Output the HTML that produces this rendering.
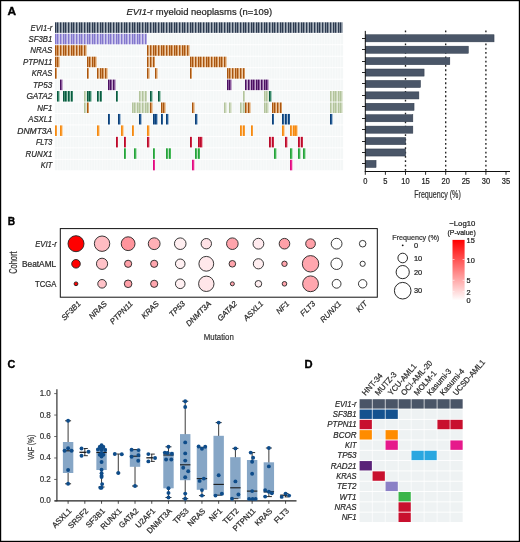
<!DOCTYPE html>
<html><head><meta charset="utf-8"><style>
html,body{margin:0;padding:0;background:#fff;}
svg{display:block;will-change:transform;}
text{font-family:"Liberation Sans", sans-serif;}
</style></head><body>
<svg width="520" height="542" viewBox="0 0 520 542">
<rect x="0" y="0" width="520" height="542" fill="#fff"/>
<text x="7.50" y="14.80" font-size="10.8" text-anchor="start" fill="#000" font-weight="bold" stroke="#000" stroke-width="0.35" textLength="8.6" lengthAdjust="spacingAndGlyphs" >A</text>
<text x="126.5" y="14.6" font-size="9.3" fill="#222" stroke="#222" stroke-width="0.2" textLength="145.6" lengthAdjust="spacingAndGlyphs"><tspan font-style="italic">EVI1</tspan>-r myeloid neoplasms (n=109)</text>
<text x="52.30" y="30.53" font-size="8.3" text-anchor="end" fill="#2a2a2a" font-style="italic" stroke="#2a2a2a" stroke-width="0.22" textLength="21.68" lengthAdjust="spacingAndGlyphs" >EVI1-r</text>
<text x="52.30" y="41.98" font-size="8.3" text-anchor="end" fill="#2a2a2a" font-style="italic" stroke="#2a2a2a" stroke-width="0.22" textLength="23.79" lengthAdjust="spacingAndGlyphs" >SF3B1</text>
<text x="52.30" y="53.44" font-size="8.3" text-anchor="end" fill="#2a2a2a" font-style="italic" stroke="#2a2a2a" stroke-width="0.22" textLength="22.01" lengthAdjust="spacingAndGlyphs" >NRAS</text>
<text x="52.30" y="64.89" font-size="8.3" text-anchor="end" fill="#2a2a2a" font-style="italic" stroke="#2a2a2a" stroke-width="0.22" textLength="29.32" lengthAdjust="spacingAndGlyphs" >PTPN11</text>
<text x="52.30" y="76.35" font-size="8.3" text-anchor="end" fill="#2a2a2a" font-style="italic" stroke="#2a2a2a" stroke-width="0.22" textLength="20.45" lengthAdjust="spacingAndGlyphs" >KRAS</text>
<text x="52.30" y="87.80" font-size="8.3" text-anchor="end" fill="#2a2a2a" font-style="italic" stroke="#2a2a2a" stroke-width="0.22" textLength="19.40" lengthAdjust="spacingAndGlyphs" >TP53</text>
<text x="52.30" y="99.26" font-size="8.3" text-anchor="end" fill="#2a2a2a" font-style="italic" stroke="#2a2a2a" stroke-width="0.22" textLength="25.88" lengthAdjust="spacingAndGlyphs" >GATA2</text>
<text x="52.30" y="110.71" font-size="8.3" text-anchor="end" fill="#2a2a2a" font-style="italic" stroke="#2a2a2a" stroke-width="0.22" textLength="14.95" lengthAdjust="spacingAndGlyphs" >NF1</text>
<text x="52.30" y="122.17" font-size="8.3" text-anchor="end" fill="#2a2a2a" font-style="italic" stroke="#2a2a2a" stroke-width="0.22" textLength="24.08" lengthAdjust="spacingAndGlyphs" >ASXL1</text>
<text x="52.30" y="133.62" font-size="8.3" text-anchor="end" fill="#2a2a2a" font-style="italic" stroke="#2a2a2a" stroke-width="0.22" textLength="35.05" lengthAdjust="spacingAndGlyphs" >DNMT3A</text>
<text x="52.30" y="145.07" font-size="8.3" text-anchor="end" fill="#2a2a2a" font-style="italic" stroke="#2a2a2a" stroke-width="0.22" textLength="16.39" lengthAdjust="spacingAndGlyphs" >FLT3</text>
<text x="52.30" y="156.53" font-size="8.3" text-anchor="end" fill="#2a2a2a" font-style="italic" stroke="#2a2a2a" stroke-width="0.22" textLength="26.78" lengthAdjust="spacingAndGlyphs" >RUNX1</text>
<text x="52.30" y="167.99" font-size="8.3" text-anchor="end" fill="#2a2a2a" font-style="italic" stroke="#2a2a2a" stroke-width="0.22" textLength="11.52" lengthAdjust="spacingAndGlyphs" >KIT</text>
<g><rect x="54.8" y="22.30" width="288.31" height="10.55" fill="#f4f7f7"/><rect x="54.8" y="33.76" width="288.31" height="10.55" fill="#f4f7f7"/><rect x="54.8" y="45.21" width="288.31" height="10.55" fill="#f4f7f7"/><rect x="54.8" y="56.67" width="288.31" height="10.55" fill="#f4f7f7"/><rect x="54.8" y="68.12" width="288.31" height="10.55" fill="#f4f7f7"/><rect x="54.8" y="79.58" width="288.31" height="10.55" fill="#f4f7f7"/><rect x="54.8" y="91.03" width="288.31" height="10.55" fill="#f4f7f7"/><rect x="54.8" y="102.48" width="288.31" height="10.55" fill="#f4f7f7"/><rect x="54.8" y="113.94" width="288.31" height="10.55" fill="#f4f7f7"/><rect x="54.8" y="125.39" width="288.31" height="10.55" fill="#f4f7f7"/><rect x="54.8" y="136.85" width="288.31" height="10.55" fill="#f4f7f7"/><rect x="54.8" y="148.31" width="288.31" height="10.55" fill="#f4f7f7"/><rect x="54.8" y="159.76" width="288.31" height="10.55" fill="#f4f7f7"/></g>
<path d="M57.45 22.3V170.31M60.09 22.3V170.31M62.73 22.3V170.31M65.38 22.3V170.31M68.02 22.3V170.31M70.67 22.3V170.31M73.31 22.3V170.31M75.96 22.3V170.31M78.60 22.3V170.31M81.25 22.3V170.31M83.89 22.3V170.31M86.54 22.3V170.31M89.19 22.3V170.31M91.83 22.3V170.31M94.47 22.3V170.31M97.12 22.3V170.31M99.77 22.3V170.31M102.41 22.3V170.31M105.06 22.3V170.31M107.70 22.3V170.31M110.34 22.3V170.31M112.99 22.3V170.31M115.63 22.3V170.31M118.28 22.3V170.31M120.92 22.3V170.31M123.57 22.3V170.31M126.22 22.3V170.31M128.86 22.3V170.31M131.50 22.3V170.31M134.15 22.3V170.31M136.80 22.3V170.31M139.44 22.3V170.31M142.08 22.3V170.31M144.73 22.3V170.31M147.38 22.3V170.31M150.02 22.3V170.31M152.66 22.3V170.31M155.31 22.3V170.31M157.95 22.3V170.31M160.60 22.3V170.31M163.25 22.3V170.31M165.89 22.3V170.31M168.53 22.3V170.31M171.18 22.3V170.31M173.82 22.3V170.31M176.47 22.3V170.31M179.12 22.3V170.31M181.76 22.3V170.31M184.40 22.3V170.31M187.05 22.3V170.31M189.69 22.3V170.31M192.34 22.3V170.31M194.99 22.3V170.31M197.63 22.3V170.31M200.27 22.3V170.31M202.92 22.3V170.31M205.56 22.3V170.31M208.21 22.3V170.31M210.86 22.3V170.31M213.50 22.3V170.31M216.14 22.3V170.31M218.79 22.3V170.31M221.44 22.3V170.31M224.08 22.3V170.31M226.73 22.3V170.31M229.37 22.3V170.31M232.01 22.3V170.31M234.66 22.3V170.31M237.31 22.3V170.31M239.95 22.3V170.31M242.59 22.3V170.31M245.24 22.3V170.31M247.88 22.3V170.31M250.53 22.3V170.31M253.18 22.3V170.31M255.82 22.3V170.31M258.46 22.3V170.31M261.11 22.3V170.31M263.75 22.3V170.31M266.40 22.3V170.31M269.05 22.3V170.31M271.69 22.3V170.31M274.33 22.3V170.31M276.98 22.3V170.31M279.62 22.3V170.31M282.27 22.3V170.31M284.92 22.3V170.31M287.56 22.3V170.31M290.20 22.3V170.31M292.85 22.3V170.31M295.50 22.3V170.31M298.14 22.3V170.31M300.79 22.3V170.31M303.43 22.3V170.31M306.07 22.3V170.31M308.72 22.3V170.31M311.37 22.3V170.31M314.01 22.3V170.31M316.66 22.3V170.31M319.30 22.3V170.31M321.94 22.3V170.31M324.59 22.3V170.31M327.24 22.3V170.31M329.88 22.3V170.31M332.53 22.3V170.31M335.17 22.3V170.31M337.81 22.3V170.31M340.46 22.3V170.31" stroke="#ffffff" stroke-width="0.45" opacity="0.9"/>
<g><rect x="55" y="22.30" width="1" height="10.55" fill="#2b394e"/><rect x="56" y="22.30" width="1" height="10.55" fill="#808b99"/><rect x="57" y="22.30" width="1" height="10.55" fill="#2b394e"/><rect x="58" y="22.30" width="1" height="10.55" fill="#808b99"/><rect x="59" y="22.30" width="1" height="10.55" fill="#aab3bd"/><rect x="60" y="22.30" width="1" height="10.55" fill="#2b394e"/><rect x="61" y="22.30" width="1" height="10.55" fill="#808b99"/><rect x="62" y="22.30" width="1" height="10.55" fill="#aab3bd"/><rect x="63" y="22.30" width="1" height="10.55" fill="#2b394e"/><rect x="64" y="22.30" width="1" height="10.55" fill="#808b99"/><rect x="65" y="22.30" width="1" height="10.55" fill="#2b394e"/><rect x="66" y="22.30" width="1" height="10.55" fill="#808b99"/><rect x="67" y="22.30" width="1" height="10.55" fill="#aab3bd"/><rect x="68" y="22.30" width="1" height="10.55" fill="#2b394e"/><rect x="69" y="22.30" width="1" height="10.55" fill="#808b99"/><rect x="70" y="22.30" width="1" height="10.55" fill="#aab3bd"/><rect x="71" y="22.30" width="1" height="10.55" fill="#2b394e"/><rect x="72" y="22.30" width="1" height="10.55" fill="#808b99"/><rect x="73" y="22.30" width="1" height="10.55" fill="#2b394e"/><rect x="74" y="22.30" width="1" height="10.55" fill="#808b99"/><rect x="75" y="22.30" width="1" height="10.55" fill="#aab3bd"/><rect x="76" y="22.30" width="1" height="10.55" fill="#2b394e"/><rect x="77" y="22.30" width="1" height="10.55" fill="#808b99"/><rect x="78" y="22.30" width="1" height="10.55" fill="#aab3bd"/><rect x="79" y="22.30" width="1" height="10.55" fill="#2b394e"/><rect x="80" y="22.30" width="1" height="10.55" fill="#808b99"/><rect x="81" y="22.30" width="1" height="10.55" fill="#2b394e"/><rect x="82" y="22.30" width="1" height="10.55" fill="#808b99"/><rect x="83" y="22.30" width="1" height="10.55" fill="#aab3bd"/><rect x="84" y="22.30" width="1" height="10.55" fill="#2b394e"/><rect x="85" y="22.30" width="1" height="10.55" fill="#808b99"/><rect x="86" y="22.30" width="1" height="10.55" fill="#aab3bd"/><rect x="87" y="22.30" width="1" height="10.55" fill="#2b394e"/><rect x="88" y="22.30" width="1" height="10.55" fill="#808b99"/><rect x="89" y="22.30" width="1" height="10.55" fill="#2b394e"/><rect x="90" y="22.30" width="1" height="10.55" fill="#808b99"/><rect x="91" y="22.30" width="1" height="10.55" fill="#aab3bd"/><rect x="92" y="22.30" width="1" height="10.55" fill="#2b394e"/><rect x="93" y="22.30" width="1" height="10.55" fill="#808b99"/><rect x="94" y="22.30" width="1" height="10.55" fill="#2b394e"/><rect x="95" y="22.30" width="1" height="10.55" fill="#808b99"/><rect x="96" y="22.30" width="1" height="10.55" fill="#aab3bd"/><rect x="97" y="22.30" width="1" height="10.55" fill="#2b394e"/><rect x="98" y="22.30" width="1" height="10.55" fill="#808b99"/><rect x="99" y="22.30" width="1" height="10.55" fill="#aab3bd"/><rect x="100" y="22.30" width="1" height="10.55" fill="#2b394e"/><rect x="101" y="22.30" width="1" height="10.55" fill="#808b99"/><rect x="102" y="22.30" width="1" height="10.55" fill="#2b394e"/><rect x="103" y="22.30" width="1" height="10.55" fill="#808b99"/><rect x="104" y="22.30" width="1" height="10.55" fill="#aab3bd"/><rect x="105" y="22.30" width="1" height="10.55" fill="#2b394e"/><rect x="106" y="22.30" width="1" height="10.55" fill="#808b99"/><rect x="107" y="22.30" width="1" height="10.55" fill="#aab3bd"/><rect x="108" y="22.30" width="1" height="10.55" fill="#2b394e"/><rect x="109" y="22.30" width="1" height="10.55" fill="#808b99"/><rect x="110" y="22.30" width="1" height="10.55" fill="#2b394e"/><rect x="111" y="22.30" width="1" height="10.55" fill="#808b99"/><rect x="112" y="22.30" width="1" height="10.55" fill="#aab3bd"/><rect x="113" y="22.30" width="1" height="10.55" fill="#2b394e"/><rect x="114" y="22.30" width="1" height="10.55" fill="#808b99"/><rect x="115" y="22.30" width="1" height="10.55" fill="#aab3bd"/><rect x="116" y="22.30" width="1" height="10.55" fill="#2b394e"/><rect x="117" y="22.30" width="1" height="10.55" fill="#808b99"/><rect x="118" y="22.30" width="1" height="10.55" fill="#2b394e"/><rect x="119" y="22.30" width="1" height="10.55" fill="#808b99"/><rect x="120" y="22.30" width="1" height="10.55" fill="#aab3bd"/><rect x="121" y="22.30" width="1" height="10.55" fill="#2b394e"/><rect x="122" y="22.30" width="1" height="10.55" fill="#808b99"/><rect x="123" y="22.30" width="1" height="10.55" fill="#aab3bd"/><rect x="124" y="22.30" width="1" height="10.55" fill="#2b394e"/><rect x="125" y="22.30" width="1" height="10.55" fill="#808b99"/><rect x="126" y="22.30" width="1" height="10.55" fill="#2b394e"/><rect x="127" y="22.30" width="1" height="10.55" fill="#808b99"/><rect x="128" y="22.30" width="1" height="10.55" fill="#aab3bd"/><rect x="129" y="22.30" width="1" height="10.55" fill="#2b394e"/><rect x="130" y="22.30" width="1" height="10.55" fill="#808b99"/><rect x="131" y="22.30" width="1" height="10.55" fill="#aab3bd"/><rect x="132" y="22.30" width="1" height="10.55" fill="#2b394e"/><rect x="133" y="22.30" width="1" height="10.55" fill="#808b99"/><rect x="134" y="22.30" width="1" height="10.55" fill="#2b394e"/><rect x="135" y="22.30" width="1" height="10.55" fill="#808b99"/><rect x="136" y="22.30" width="1" height="10.55" fill="#aab3bd"/><rect x="137" y="22.30" width="1" height="10.55" fill="#2b394e"/><rect x="138" y="22.30" width="1" height="10.55" fill="#808b99"/><rect x="139" y="22.30" width="1" height="10.55" fill="#2b394e"/><rect x="140" y="22.30" width="1" height="10.55" fill="#808b99"/><rect x="141" y="22.30" width="1" height="10.55" fill="#aab3bd"/><rect x="142" y="22.30" width="1" height="10.55" fill="#2b394e"/><rect x="143" y="22.30" width="1" height="10.55" fill="#808b99"/><rect x="144" y="22.30" width="1" height="10.55" fill="#aab3bd"/><rect x="145" y="22.30" width="1" height="10.55" fill="#2b394e"/><rect x="146" y="22.30" width="1" height="10.55" fill="#808b99"/><rect x="147" y="22.30" width="1" height="10.55" fill="#2b394e"/><rect x="148" y="22.30" width="1" height="10.55" fill="#808b99"/><rect x="149" y="22.30" width="1" height="10.55" fill="#aab3bd"/><rect x="150" y="22.30" width="1" height="10.55" fill="#2b394e"/><rect x="151" y="22.30" width="1" height="10.55" fill="#808b99"/><rect x="152" y="22.30" width="1" height="10.55" fill="#aab3bd"/><rect x="153" y="22.30" width="1" height="10.55" fill="#2b394e"/><rect x="154" y="22.30" width="1" height="10.55" fill="#808b99"/><rect x="155" y="22.30" width="1" height="10.55" fill="#2b394e"/><rect x="156" y="22.30" width="1" height="10.55" fill="#808b99"/><rect x="157" y="22.30" width="1" height="10.55" fill="#aab3bd"/><rect x="158" y="22.30" width="1" height="10.55" fill="#2b394e"/><rect x="159" y="22.30" width="1" height="10.55" fill="#808b99"/><rect x="160" y="22.30" width="1" height="10.55" fill="#aab3bd"/><rect x="161" y="22.30" width="1" height="10.55" fill="#2b394e"/><rect x="162" y="22.30" width="1" height="10.55" fill="#808b99"/><rect x="163" y="22.30" width="1" height="10.55" fill="#2b394e"/><rect x="164" y="22.30" width="1" height="10.55" fill="#808b99"/><rect x="165" y="22.30" width="1" height="10.55" fill="#aab3bd"/><rect x="166" y="22.30" width="1" height="10.55" fill="#2b394e"/><rect x="167" y="22.30" width="1" height="10.55" fill="#808b99"/><rect x="168" y="22.30" width="1" height="10.55" fill="#aab3bd"/><rect x="169" y="22.30" width="1" height="10.55" fill="#2b394e"/><rect x="170" y="22.30" width="1" height="10.55" fill="#808b99"/><rect x="171" y="22.30" width="1" height="10.55" fill="#2b394e"/><rect x="172" y="22.30" width="1" height="10.55" fill="#808b99"/><rect x="173" y="22.30" width="1" height="10.55" fill="#aab3bd"/><rect x="174" y="22.30" width="1" height="10.55" fill="#2b394e"/><rect x="175" y="22.30" width="1" height="10.55" fill="#808b99"/><rect x="176" y="22.30" width="1" height="10.55" fill="#2b394e"/><rect x="177" y="22.30" width="1" height="10.55" fill="#808b99"/><rect x="178" y="22.30" width="1" height="10.55" fill="#aab3bd"/><rect x="179" y="22.30" width="1" height="10.55" fill="#2b394e"/><rect x="180" y="22.30" width="1" height="10.55" fill="#808b99"/><rect x="181" y="22.30" width="1" height="10.55" fill="#aab3bd"/><rect x="182" y="22.30" width="1" height="10.55" fill="#2b394e"/><rect x="183" y="22.30" width="1" height="10.55" fill="#808b99"/><rect x="184" y="22.30" width="1" height="10.55" fill="#2b394e"/><rect x="185" y="22.30" width="1" height="10.55" fill="#808b99"/><rect x="186" y="22.30" width="1" height="10.55" fill="#aab3bd"/><rect x="187" y="22.30" width="1" height="10.55" fill="#2b394e"/><rect x="188" y="22.30" width="1" height="10.55" fill="#808b99"/><rect x="189" y="22.30" width="1" height="10.55" fill="#aab3bd"/><rect x="190" y="22.30" width="1" height="10.55" fill="#2b394e"/><rect x="191" y="22.30" width="1" height="10.55" fill="#808b99"/><rect x="192" y="22.30" width="1" height="10.55" fill="#2b394e"/><rect x="193" y="22.30" width="1" height="10.55" fill="#808b99"/><rect x="194" y="22.30" width="1" height="10.55" fill="#aab3bd"/><rect x="195" y="22.30" width="1" height="10.55" fill="#2b394e"/><rect x="196" y="22.30" width="1" height="10.55" fill="#808b99"/><rect x="197" y="22.30" width="1" height="10.55" fill="#aab3bd"/><rect x="198" y="22.30" width="1" height="10.55" fill="#2b394e"/><rect x="199" y="22.30" width="1" height="10.55" fill="#808b99"/><rect x="200" y="22.30" width="1" height="10.55" fill="#2b394e"/><rect x="201" y="22.30" width="1" height="10.55" fill="#808b99"/><rect x="202" y="22.30" width="1" height="10.55" fill="#aab3bd"/><rect x="203" y="22.30" width="1" height="10.55" fill="#2b394e"/><rect x="204" y="22.30" width="1" height="10.55" fill="#808b99"/><rect x="205" y="22.30" width="1" height="10.55" fill="#aab3bd"/><rect x="206" y="22.30" width="1" height="10.55" fill="#2b394e"/><rect x="207" y="22.30" width="1" height="10.55" fill="#808b99"/><rect x="208" y="22.30" width="1" height="10.55" fill="#2b394e"/><rect x="209" y="22.30" width="1" height="10.55" fill="#808b99"/><rect x="210" y="22.30" width="1" height="10.55" fill="#aab3bd"/><rect x="211" y="22.30" width="1" height="10.55" fill="#2b394e"/><rect x="212" y="22.30" width="1" height="10.55" fill="#808b99"/><rect x="213" y="22.30" width="1" height="10.55" fill="#aab3bd"/><rect x="214" y="22.30" width="1" height="10.55" fill="#2b394e"/><rect x="215" y="22.30" width="1" height="10.55" fill="#808b99"/><rect x="216" y="22.30" width="1" height="10.55" fill="#2b394e"/><rect x="217" y="22.30" width="1" height="10.55" fill="#808b99"/><rect x="218" y="22.30" width="1" height="10.55" fill="#aab3bd"/><rect x="219" y="22.30" width="1" height="10.55" fill="#2b394e"/><rect x="220" y="22.30" width="1" height="10.55" fill="#808b99"/><rect x="221" y="22.30" width="1" height="10.55" fill="#2b394e"/><rect x="222" y="22.30" width="1" height="10.55" fill="#808b99"/><rect x="223" y="22.30" width="1" height="10.55" fill="#aab3bd"/><rect x="224" y="22.30" width="1" height="10.55" fill="#2b394e"/><rect x="225" y="22.30" width="1" height="10.55" fill="#808b99"/><rect x="226" y="22.30" width="1" height="10.55" fill="#aab3bd"/><rect x="227" y="22.30" width="1" height="10.55" fill="#2b394e"/><rect x="228" y="22.30" width="1" height="10.55" fill="#808b99"/><rect x="229" y="22.30" width="1" height="10.55" fill="#2b394e"/><rect x="230" y="22.30" width="1" height="10.55" fill="#808b99"/><rect x="231" y="22.30" width="1" height="10.55" fill="#aab3bd"/><rect x="232" y="22.30" width="1" height="10.55" fill="#2b394e"/><rect x="233" y="22.30" width="1" height="10.55" fill="#808b99"/><rect x="234" y="22.30" width="1" height="10.55" fill="#aab3bd"/><rect x="235" y="22.30" width="1" height="10.55" fill="#2b394e"/><rect x="236" y="22.30" width="1" height="10.55" fill="#808b99"/><rect x="237" y="22.30" width="1" height="10.55" fill="#2b394e"/><rect x="238" y="22.30" width="1" height="10.55" fill="#808b99"/><rect x="239" y="22.30" width="1" height="10.55" fill="#aab3bd"/><rect x="240" y="22.30" width="1" height="10.55" fill="#2b394e"/><rect x="241" y="22.30" width="1" height="10.55" fill="#808b99"/><rect x="242" y="22.30" width="1" height="10.55" fill="#aab3bd"/><rect x="243" y="22.30" width="1" height="10.55" fill="#2b394e"/><rect x="244" y="22.30" width="1" height="10.55" fill="#808b99"/><rect x="245" y="22.30" width="1" height="10.55" fill="#2b394e"/><rect x="246" y="22.30" width="1" height="10.55" fill="#808b99"/><rect x="247" y="22.30" width="1" height="10.55" fill="#aab3bd"/><rect x="248" y="22.30" width="1" height="10.55" fill="#2b394e"/><rect x="249" y="22.30" width="1" height="10.55" fill="#808b99"/><rect x="250" y="22.30" width="1" height="10.55" fill="#aab3bd"/><rect x="251" y="22.30" width="1" height="10.55" fill="#2b394e"/><rect x="252" y="22.30" width="1" height="10.55" fill="#808b99"/><rect x="253" y="22.30" width="1" height="10.55" fill="#2b394e"/><rect x="254" y="22.30" width="1" height="10.55" fill="#808b99"/><rect x="255" y="22.30" width="1" height="10.55" fill="#aab3bd"/><rect x="256" y="22.30" width="1" height="10.55" fill="#2b394e"/><rect x="257" y="22.30" width="1" height="10.55" fill="#808b99"/><rect x="258" y="22.30" width="1" height="10.55" fill="#2b394e"/><rect x="259" y="22.30" width="1" height="10.55" fill="#808b99"/><rect x="260" y="22.30" width="1" height="10.55" fill="#aab3bd"/><rect x="261" y="22.30" width="1" height="10.55" fill="#2b394e"/><rect x="262" y="22.30" width="1" height="10.55" fill="#808b99"/><rect x="263" y="22.30" width="1" height="10.55" fill="#aab3bd"/><rect x="264" y="22.30" width="1" height="10.55" fill="#2b394e"/><rect x="265" y="22.30" width="1" height="10.55" fill="#808b99"/><rect x="266" y="22.30" width="1" height="10.55" fill="#2b394e"/><rect x="267" y="22.30" width="1" height="10.55" fill="#808b99"/><rect x="268" y="22.30" width="1" height="10.55" fill="#aab3bd"/><rect x="269" y="22.30" width="1" height="10.55" fill="#2b394e"/><rect x="270" y="22.30" width="1" height="10.55" fill="#808b99"/><rect x="271" y="22.30" width="1" height="10.55" fill="#aab3bd"/><rect x="272" y="22.30" width="1" height="10.55" fill="#2b394e"/><rect x="273" y="22.30" width="1" height="10.55" fill="#808b99"/><rect x="274" y="22.30" width="1" height="10.55" fill="#2b394e"/><rect x="275" y="22.30" width="1" height="10.55" fill="#808b99"/><rect x="276" y="22.30" width="1" height="10.55" fill="#aab3bd"/><rect x="277" y="22.30" width="1" height="10.55" fill="#2b394e"/><rect x="278" y="22.30" width="1" height="10.55" fill="#808b99"/><rect x="279" y="22.30" width="1" height="10.55" fill="#aab3bd"/><rect x="280" y="22.30" width="1" height="10.55" fill="#2b394e"/><rect x="281" y="22.30" width="1" height="10.55" fill="#808b99"/><rect x="282" y="22.30" width="1" height="10.55" fill="#2b394e"/><rect x="283" y="22.30" width="1" height="10.55" fill="#808b99"/><rect x="284" y="22.30" width="1" height="10.55" fill="#aab3bd"/><rect x="285" y="22.30" width="1" height="10.55" fill="#2b394e"/><rect x="286" y="22.30" width="1" height="10.55" fill="#808b99"/><rect x="287" y="22.30" width="1" height="10.55" fill="#aab3bd"/><rect x="288" y="22.30" width="1" height="10.55" fill="#2b394e"/><rect x="289" y="22.30" width="1" height="10.55" fill="#808b99"/><rect x="290" y="22.30" width="1" height="10.55" fill="#2b394e"/><rect x="291" y="22.30" width="1" height="10.55" fill="#808b99"/><rect x="292" y="22.30" width="1" height="10.55" fill="#aab3bd"/><rect x="293" y="22.30" width="1" height="10.55" fill="#2b394e"/><rect x="294" y="22.30" width="1" height="10.55" fill="#808b99"/><rect x="295" y="22.30" width="1" height="10.55" fill="#2b394e"/><rect x="296" y="22.30" width="1" height="10.55" fill="#808b99"/><rect x="297" y="22.30" width="1" height="10.55" fill="#aab3bd"/><rect x="298" y="22.30" width="1" height="10.55" fill="#2b394e"/><rect x="299" y="22.30" width="1" height="10.55" fill="#808b99"/><rect x="300" y="22.30" width="1" height="10.55" fill="#aab3bd"/><rect x="301" y="22.30" width="1" height="10.55" fill="#2b394e"/><rect x="302" y="22.30" width="1" height="10.55" fill="#808b99"/><rect x="303" y="22.30" width="1" height="10.55" fill="#2b394e"/><rect x="304" y="22.30" width="1" height="10.55" fill="#808b99"/><rect x="305" y="22.30" width="1" height="10.55" fill="#aab3bd"/><rect x="306" y="22.30" width="1" height="10.55" fill="#2b394e"/><rect x="307" y="22.30" width="1" height="10.55" fill="#808b99"/><rect x="308" y="22.30" width="1" height="10.55" fill="#aab3bd"/><rect x="309" y="22.30" width="1" height="10.55" fill="#2b394e"/><rect x="310" y="22.30" width="1" height="10.55" fill="#808b99"/><rect x="311" y="22.30" width="1" height="10.55" fill="#2b394e"/><rect x="312" y="22.30" width="1" height="10.55" fill="#808b99"/><rect x="313" y="22.30" width="1" height="10.55" fill="#aab3bd"/><rect x="314" y="22.30" width="1" height="10.55" fill="#2b394e"/><rect x="315" y="22.30" width="1" height="10.55" fill="#808b99"/><rect x="316" y="22.30" width="1" height="10.55" fill="#aab3bd"/><rect x="317" y="22.30" width="1" height="10.55" fill="#2b394e"/><rect x="318" y="22.30" width="1" height="10.55" fill="#808b99"/><rect x="319" y="22.30" width="1" height="10.55" fill="#2b394e"/><rect x="320" y="22.30" width="1" height="10.55" fill="#808b99"/><rect x="321" y="22.30" width="1" height="10.55" fill="#aab3bd"/><rect x="322" y="22.30" width="1" height="10.55" fill="#2b394e"/><rect x="323" y="22.30" width="1" height="10.55" fill="#808b99"/><rect x="324" y="22.30" width="1" height="10.55" fill="#aab3bd"/><rect x="325" y="22.30" width="1" height="10.55" fill="#2b394e"/><rect x="326" y="22.30" width="1" height="10.55" fill="#808b99"/><rect x="327" y="22.30" width="1" height="10.55" fill="#2b394e"/><rect x="328" y="22.30" width="1" height="10.55" fill="#808b99"/><rect x="329" y="22.30" width="1" height="10.55" fill="#aab3bd"/><rect x="330" y="22.30" width="1" height="10.55" fill="#2b394e"/><rect x="331" y="22.30" width="1" height="10.55" fill="#808b99"/><rect x="332" y="22.30" width="1" height="10.55" fill="#aab3bd"/><rect x="333" y="22.30" width="1" height="10.55" fill="#2b394e"/><rect x="334" y="22.30" width="1" height="10.55" fill="#808b99"/><rect x="335" y="22.30" width="1" height="10.55" fill="#2b394e"/><rect x="336" y="22.30" width="1" height="10.55" fill="#808b99"/><rect x="337" y="22.30" width="1" height="10.55" fill="#aab3bd"/><rect x="338" y="22.30" width="1" height="10.55" fill="#2b394e"/><rect x="339" y="22.30" width="1" height="10.55" fill="#808b99"/><rect x="340" y="22.30" width="1" height="10.55" fill="#2b394e"/><rect x="341" y="22.30" width="1" height="10.55" fill="#808b99"/><rect x="342" y="22.30" width="1" height="10.55" fill="#aab3bd"/><rect x="55" y="33.76" width="1" height="10.55" fill="#8276cc"/><rect x="56" y="33.76" width="1" height="10.55" fill="#b2abe2"/><rect x="57" y="33.76" width="1" height="10.55" fill="#8276cc"/><rect x="58" y="33.76" width="1" height="10.55" fill="#b2abe2"/><rect x="59" y="33.76" width="1" height="10.55" fill="#d2cdee"/><rect x="60" y="33.76" width="1" height="10.55" fill="#8276cc"/><rect x="61" y="33.76" width="1" height="10.55" fill="#b2abe2"/><rect x="62" y="33.76" width="1" height="10.55" fill="#d2cdee"/><rect x="63" y="33.76" width="1" height="10.55" fill="#8276cc"/><rect x="64" y="33.76" width="1" height="10.55" fill="#b2abe2"/><rect x="65" y="33.76" width="1" height="10.55" fill="#8276cc"/><rect x="66" y="33.76" width="1" height="10.55" fill="#b2abe2"/><rect x="67" y="33.76" width="1" height="10.55" fill="#d2cdee"/><rect x="68" y="33.76" width="1" height="10.55" fill="#8276cc"/><rect x="69" y="33.76" width="1" height="10.55" fill="#b2abe2"/><rect x="70" y="33.76" width="1" height="10.55" fill="#d2cdee"/><rect x="71" y="33.76" width="1" height="10.55" fill="#8276cc"/><rect x="72" y="33.76" width="1" height="10.55" fill="#b2abe2"/><rect x="73" y="33.76" width="1" height="10.55" fill="#8276cc"/><rect x="74" y="33.76" width="1" height="10.55" fill="#b2abe2"/><rect x="75" y="33.76" width="1" height="10.55" fill="#d2cdee"/><rect x="76" y="33.76" width="1" height="10.55" fill="#8276cc"/><rect x="77" y="33.76" width="1" height="10.55" fill="#b2abe2"/><rect x="78" y="33.76" width="1" height="10.55" fill="#d2cdee"/><rect x="79" y="33.76" width="1" height="10.55" fill="#8276cc"/><rect x="80" y="33.76" width="1" height="10.55" fill="#b2abe2"/><rect x="81" y="33.76" width="1" height="10.55" fill="#8276cc"/><rect x="82" y="33.76" width="1" height="10.55" fill="#b2abe2"/><rect x="83" y="33.76" width="1" height="10.55" fill="#d2cdee"/><rect x="84" y="33.76" width="1" height="10.55" fill="#8276cc"/><rect x="85" y="33.76" width="1" height="10.55" fill="#b2abe2"/><rect x="86" y="33.76" width="1" height="10.55" fill="#d2cdee"/><rect x="87" y="33.76" width="1" height="10.55" fill="#8276cc"/><rect x="88" y="33.76" width="1" height="10.55" fill="#b2abe2"/><rect x="89" y="33.76" width="1" height="10.55" fill="#8276cc"/><rect x="90" y="33.76" width="1" height="10.55" fill="#b2abe2"/><rect x="91" y="33.76" width="1" height="10.55" fill="#d2cdee"/><rect x="92" y="33.76" width="1" height="10.55" fill="#8276cc"/><rect x="93" y="33.76" width="1" height="10.55" fill="#b2abe2"/><rect x="94" y="33.76" width="1" height="10.55" fill="#8276cc"/><rect x="95" y="33.76" width="1" height="10.55" fill="#b2abe2"/><rect x="96" y="33.76" width="1" height="10.55" fill="#d2cdee"/><rect x="97" y="33.76" width="1" height="10.55" fill="#8276cc"/><rect x="98" y="33.76" width="1" height="10.55" fill="#b2abe2"/><rect x="99" y="33.76" width="1" height="10.55" fill="#d2cdee"/><rect x="100" y="33.76" width="1" height="10.55" fill="#8276cc"/><rect x="101" y="33.76" width="1" height="10.55" fill="#b2abe2"/><rect x="102" y="33.76" width="1" height="10.55" fill="#8276cc"/><rect x="103" y="33.76" width="1" height="10.55" fill="#b2abe2"/><rect x="104" y="33.76" width="1" height="10.55" fill="#d2cdee"/><rect x="105" y="33.76" width="1" height="10.55" fill="#8276cc"/><rect x="106" y="33.76" width="1" height="10.55" fill="#b2abe2"/><rect x="107" y="33.76" width="1" height="10.55" fill="#d2cdee"/><rect x="108" y="33.76" width="1" height="10.55" fill="#8276cc"/><rect x="109" y="33.76" width="1" height="10.55" fill="#b2abe2"/><rect x="110" y="33.76" width="1" height="10.55" fill="#8276cc"/><rect x="111" y="33.76" width="1" height="10.55" fill="#b2abe2"/><rect x="112" y="33.76" width="1" height="10.55" fill="#d2cdee"/><rect x="113" y="33.76" width="1" height="10.55" fill="#8276cc"/><rect x="114" y="33.76" width="1" height="10.55" fill="#b2abe2"/><rect x="115" y="33.76" width="1" height="10.55" fill="#d2cdee"/><rect x="116" y="33.76" width="1" height="10.55" fill="#8276cc"/><rect x="117" y="33.76" width="1" height="10.55" fill="#b2abe2"/><rect x="118" y="33.76" width="1" height="10.55" fill="#8276cc"/><rect x="119" y="33.76" width="1" height="10.55" fill="#b2abe2"/><rect x="120" y="33.76" width="1" height="10.55" fill="#d2cdee"/><rect x="121" y="33.76" width="1" height="10.55" fill="#8276cc"/><rect x="122" y="33.76" width="1" height="10.55" fill="#b2abe2"/><rect x="123" y="33.76" width="1" height="10.55" fill="#d2cdee"/><rect x="124" y="33.76" width="1" height="10.55" fill="#8276cc"/><rect x="125" y="33.76" width="1" height="10.55" fill="#b2abe2"/><rect x="126" y="33.76" width="1" height="10.55" fill="#8276cc"/><rect x="127" y="33.76" width="1" height="10.55" fill="#b2abe2"/><rect x="128" y="33.76" width="1" height="10.55" fill="#d2cdee"/><rect x="129" y="33.76" width="1" height="10.55" fill="#8276cc"/><rect x="130" y="33.76" width="1" height="10.55" fill="#b2abe2"/><rect x="131" y="33.76" width="1" height="10.55" fill="#d2cdee"/><rect x="132" y="33.76" width="1" height="10.55" fill="#8276cc"/><rect x="133" y="33.76" width="1" height="10.55" fill="#b2abe2"/><rect x="134" y="33.76" width="1" height="10.55" fill="#8276cc"/><rect x="135" y="33.76" width="1" height="10.55" fill="#b2abe2"/><rect x="136" y="33.76" width="1" height="10.55" fill="#d2cdee"/><rect x="137" y="33.76" width="1" height="10.55" fill="#8276cc"/><rect x="138" y="33.76" width="1" height="10.55" fill="#b2abe2"/><rect x="139" y="33.76" width="1" height="10.55" fill="#8276cc"/><rect x="140" y="33.76" width="1" height="10.55" fill="#b2abe2"/><rect x="141" y="33.76" width="1" height="10.55" fill="#d2cdee"/><rect x="142" y="33.76" width="1" height="10.55" fill="#8276cc"/><rect x="143" y="33.76" width="1" height="10.55" fill="#b2abe2"/><rect x="144" y="33.76" width="1" height="10.55" fill="#d2cdee"/><rect x="145" y="33.76" width="1" height="10.55" fill="#8276cc"/><rect x="146" y="33.76" width="1" height="10.55" fill="#b2abe2"/><rect x="55" y="45.21" width="1" height="10.55" fill="#a85510"/><rect x="56" y="45.21" width="1" height="10.55" fill="#d6995f"/><rect x="57" y="45.21" width="1" height="10.55" fill="#a85510"/><rect x="58" y="45.21" width="1" height="10.55" fill="#d6995f"/><rect x="59" y="45.21" width="1" height="10.55" fill="#ebcaa8"/><rect x="60" y="45.21" width="1" height="10.55" fill="#a85510"/><rect x="61" y="45.21" width="1" height="10.55" fill="#d6995f"/><rect x="62" y="45.21" width="1" height="10.55" fill="#ebcaa8"/><rect x="63" y="45.21" width="1" height="10.55" fill="#a85510"/><rect x="64" y="45.21" width="1" height="10.55" fill="#d6995f"/><rect x="65" y="45.21" width="1" height="10.55" fill="#a85510"/><rect x="66" y="45.21" width="1" height="10.55" fill="#d6995f"/><rect x="67" y="45.21" width="1" height="10.55" fill="#ebcaa8"/><rect x="68" y="45.21" width="1" height="10.55" fill="#a85510"/><rect x="69" y="45.21" width="1" height="10.55" fill="#d6995f"/><rect x="70" y="45.21" width="1" height="10.55" fill="#ebcaa8"/><rect x="71" y="45.21" width="1" height="10.55" fill="#a85510"/><rect x="72" y="45.21" width="1" height="10.55" fill="#d6995f"/><rect x="73" y="45.21" width="1" height="10.55" fill="#a85510"/><rect x="74" y="45.21" width="1" height="10.55" fill="#d6995f"/><rect x="75" y="45.21" width="1" height="10.55" fill="#ebcaa8"/><rect x="76" y="45.21" width="1" height="10.55" fill="#a85510"/><rect x="77" y="45.21" width="1" height="10.55" fill="#d6995f"/><rect x="78" y="45.21" width="1" height="10.55" fill="#ebcaa8"/><rect x="79" y="45.21" width="1" height="10.55" fill="#a85510"/><rect x="80" y="45.21" width="1" height="10.55" fill="#d6995f"/><rect x="81" y="45.21" width="1" height="10.55" fill="#a85510"/><rect x="82" y="45.21" width="1" height="10.55" fill="#d6995f"/><rect x="83" y="45.21" width="1" height="10.55" fill="#ebcaa8"/><rect x="84" y="45.21" width="1" height="10.55" fill="#a85510"/><rect x="85" y="45.21" width="1" height="10.55" fill="#d6995f"/><rect x="86" y="45.21" width="1" height="10.55" fill="#ebcaa8"/><rect x="147" y="45.21" width="1" height="10.55" fill="#a85510"/><rect x="148" y="45.21" width="1" height="10.55" fill="#d6995f"/><rect x="149" y="45.21" width="1" height="10.55" fill="#ebcaa8"/><rect x="150" y="45.21" width="1" height="10.55" fill="#a85510"/><rect x="151" y="45.21" width="1" height="10.55" fill="#d6995f"/><rect x="152" y="45.21" width="1" height="10.55" fill="#ebcaa8"/><rect x="153" y="45.21" width="1" height="10.55" fill="#a85510"/><rect x="154" y="45.21" width="1" height="10.55" fill="#d6995f"/><rect x="155" y="45.21" width="1" height="10.55" fill="#a85510"/><rect x="156" y="45.21" width="1" height="10.55" fill="#d6995f"/><rect x="157" y="45.21" width="1" height="10.55" fill="#ebcaa8"/><rect x="158" y="45.21" width="1" height="10.55" fill="#a85510"/><rect x="159" y="45.21" width="1" height="10.55" fill="#d6995f"/><rect x="160" y="45.21" width="1" height="10.55" fill="#ebcaa8"/><rect x="161" y="45.21" width="1" height="10.55" fill="#a85510"/><rect x="162" y="45.21" width="1" height="10.55" fill="#d6995f"/><rect x="163" y="45.21" width="1" height="10.55" fill="#a85510"/><rect x="164" y="45.21" width="1" height="10.55" fill="#d6995f"/><rect x="165" y="45.21" width="1" height="10.55" fill="#ebcaa8"/><rect x="166" y="45.21" width="1" height="10.55" fill="#a85510"/><rect x="167" y="45.21" width="1" height="10.55" fill="#d6995f"/><rect x="168" y="45.21" width="1" height="10.55" fill="#ebcaa8"/><rect x="169" y="45.21" width="1" height="10.55" fill="#a85510"/><rect x="170" y="45.21" width="1" height="10.55" fill="#d6995f"/><rect x="171" y="45.21" width="1" height="10.55" fill="#a85510"/><rect x="172" y="45.21" width="1" height="10.55" fill="#d6995f"/><rect x="173" y="45.21" width="1" height="10.55" fill="#ebcaa8"/><rect x="174" y="45.21" width="1" height="10.55" fill="#a85510"/><rect x="175" y="45.21" width="1" height="10.55" fill="#d6995f"/><rect x="176" y="45.21" width="1" height="10.55" fill="#a85510"/><rect x="177" y="45.21" width="1" height="10.55" fill="#d6995f"/><rect x="178" y="45.21" width="1" height="10.55" fill="#ebcaa8"/><rect x="179" y="45.21" width="1" height="10.55" fill="#a85510"/><rect x="180" y="45.21" width="1" height="10.55" fill="#d6995f"/><rect x="181" y="45.21" width="1" height="10.55" fill="#ebcaa8"/><rect x="182" y="45.21" width="1" height="10.55" fill="#a85510"/><rect x="183" y="45.21" width="1" height="10.55" fill="#d6995f"/><rect x="184" y="45.21" width="1" height="10.55" fill="#a85510"/><rect x="185" y="45.21" width="1" height="10.55" fill="#d6995f"/><rect x="186" y="45.21" width="1" height="10.55" fill="#ebcaa8"/><rect x="187" y="45.21" width="1" height="10.55" fill="#a85510"/><rect x="188" y="45.21" width="1" height="10.55" fill="#d6995f"/><rect x="189" y="45.21" width="1" height="10.55" fill="#ebcaa8"/><rect x="55" y="56.67" width="1" height="10.55" fill="#a85510"/><rect x="56" y="56.67" width="1" height="10.55" fill="#d6995f"/><rect x="57" y="56.67" width="1" height="10.55" fill="#a85510"/><rect x="58" y="56.67" width="1" height="10.55" fill="#d6995f"/><rect x="59" y="56.67" width="1" height="10.55" fill="#ebcaa8"/><rect x="87" y="56.67" width="1" height="10.55" fill="#a85510"/><rect x="88" y="56.67" width="1" height="10.55" fill="#d6995f"/><rect x="89" y="56.67" width="1" height="10.55" fill="#a85510"/><rect x="90" y="56.67" width="1" height="10.55" fill="#d6995f"/><rect x="91" y="56.67" width="1" height="10.55" fill="#ebcaa8"/><rect x="92" y="56.67" width="1" height="10.55" fill="#a85510"/><rect x="93" y="56.67" width="1" height="10.55" fill="#d6995f"/><rect x="94" y="56.67" width="1" height="10.55" fill="#a85510"/><rect x="95" y="56.67" width="1" height="10.55" fill="#d6995f"/><rect x="96" y="56.67" width="1" height="10.55" fill="#ebcaa8"/><rect x="147" y="56.67" width="1" height="10.55" fill="#a85510"/><rect x="148" y="56.67" width="1" height="10.55" fill="#d6995f"/><rect x="149" y="56.67" width="1" height="10.55" fill="#ebcaa8"/><rect x="150" y="56.67" width="1" height="10.55" fill="#a85510"/><rect x="151" y="56.67" width="1" height="10.55" fill="#d6995f"/><rect x="152" y="56.67" width="1" height="10.55" fill="#ebcaa8"/><rect x="153" y="56.67" width="1" height="10.55" fill="#a85510"/><rect x="154" y="56.67" width="1" height="10.55" fill="#d6995f"/><rect x="190" y="56.67" width="1" height="10.55" fill="#a85510"/><rect x="191" y="56.67" width="1" height="10.55" fill="#d6995f"/><rect x="192" y="56.67" width="1" height="10.55" fill="#a85510"/><rect x="193" y="56.67" width="1" height="10.55" fill="#d6995f"/><rect x="194" y="56.67" width="1" height="10.55" fill="#ebcaa8"/><rect x="195" y="56.67" width="1" height="10.55" fill="#a85510"/><rect x="196" y="56.67" width="1" height="10.55" fill="#d6995f"/><rect x="197" y="56.67" width="1" height="10.55" fill="#ebcaa8"/><rect x="198" y="56.67" width="1" height="10.55" fill="#a85510"/><rect x="199" y="56.67" width="1" height="10.55" fill="#d6995f"/><rect x="200" y="56.67" width="1" height="10.55" fill="#a85510"/><rect x="201" y="56.67" width="1" height="10.55" fill="#d6995f"/><rect x="202" y="56.67" width="1" height="10.55" fill="#ebcaa8"/><rect x="203" y="56.67" width="1" height="10.55" fill="#a85510"/><rect x="204" y="56.67" width="1" height="10.55" fill="#d6995f"/><rect x="205" y="56.67" width="1" height="10.55" fill="#ebcaa8"/><rect x="206" y="56.67" width="1" height="10.55" fill="#a85510"/><rect x="207" y="56.67" width="1" height="10.55" fill="#d6995f"/><rect x="208" y="56.67" width="1" height="10.55" fill="#a85510"/><rect x="209" y="56.67" width="1" height="10.55" fill="#d6995f"/><rect x="210" y="56.67" width="1" height="10.55" fill="#ebcaa8"/><rect x="211" y="56.67" width="1" height="10.55" fill="#a85510"/><rect x="212" y="56.67" width="1" height="10.55" fill="#d6995f"/><rect x="213" y="56.67" width="1" height="10.55" fill="#ebcaa8"/><rect x="214" y="56.67" width="1" height="10.55" fill="#a85510"/><rect x="215" y="56.67" width="1" height="10.55" fill="#d6995f"/><rect x="216" y="56.67" width="1" height="10.55" fill="#a85510"/><rect x="217" y="56.67" width="1" height="10.55" fill="#d6995f"/><rect x="218" y="56.67" width="1" height="10.55" fill="#ebcaa8"/><rect x="219" y="56.67" width="1" height="10.55" fill="#a85510"/><rect x="220" y="56.67" width="1" height="10.55" fill="#d6995f"/><rect x="221" y="56.67" width="1" height="10.55" fill="#a85510"/><rect x="222" y="56.67" width="1" height="10.55" fill="#d6995f"/><rect x="223" y="56.67" width="1" height="10.55" fill="#ebcaa8"/><rect x="224" y="56.67" width="1" height="10.55" fill="#a85510"/><rect x="225" y="56.67" width="1" height="10.55" fill="#d6995f"/><rect x="226" y="56.67" width="1" height="10.55" fill="#ebcaa8"/><rect x="55" y="68.12" width="1" height="10.55" fill="#a85510"/><rect x="56" y="68.12" width="1" height="10.55" fill="#d6995f"/><rect x="87" y="68.12" width="1" height="10.55" fill="#a85510"/><rect x="88" y="68.12" width="1" height="10.55" fill="#d6995f"/><rect x="97" y="68.12" width="1" height="10.55" fill="#a85510"/><rect x="98" y="68.12" width="1" height="10.55" fill="#d6995f"/><rect x="99" y="68.12" width="1" height="10.55" fill="#ebcaa8"/><rect x="100" y="68.12" width="1" height="10.55" fill="#a85510"/><rect x="101" y="68.12" width="1" height="10.55" fill="#d6995f"/><rect x="102" y="68.12" width="1" height="10.55" fill="#a85510"/><rect x="103" y="68.12" width="1" height="10.55" fill="#d6995f"/><rect x="104" y="68.12" width="1" height="10.55" fill="#ebcaa8"/><rect x="105" y="68.12" width="1" height="10.55" fill="#a85510"/><rect x="106" y="68.12" width="1" height="10.55" fill="#d6995f"/><rect x="107" y="68.12" width="1" height="10.55" fill="#ebcaa8"/><rect x="147" y="68.12" width="1" height="10.55" fill="#a85510"/><rect x="148" y="68.12" width="1" height="10.55" fill="#d6995f"/><rect x="149" y="68.12" width="1" height="10.55" fill="#ebcaa8"/><rect x="155" y="68.12" width="1" height="10.55" fill="#a85510"/><rect x="156" y="68.12" width="1" height="10.55" fill="#d6995f"/><rect x="157" y="68.12" width="1" height="10.55" fill="#ebcaa8"/><rect x="190" y="68.12" width="1" height="10.55" fill="#a85510"/><rect x="191" y="68.12" width="1" height="10.55" fill="#d6995f"/><rect x="227" y="68.12" width="1" height="10.55" fill="#a85510"/><rect x="228" y="68.12" width="1" height="10.55" fill="#d6995f"/><rect x="229" y="68.12" width="1" height="10.55" fill="#a85510"/><rect x="230" y="68.12" width="1" height="10.55" fill="#d6995f"/><rect x="231" y="68.12" width="1" height="10.55" fill="#ebcaa8"/><rect x="232" y="68.12" width="1" height="10.55" fill="#a85510"/><rect x="233" y="68.12" width="1" height="10.55" fill="#d6995f"/><rect x="234" y="68.12" width="1" height="10.55" fill="#ebcaa8"/><rect x="235" y="68.12" width="1" height="10.55" fill="#a85510"/><rect x="236" y="68.12" width="1" height="10.55" fill="#d6995f"/><rect x="237" y="68.12" width="1" height="10.55" fill="#a85510"/><rect x="238" y="68.12" width="1" height="10.55" fill="#d6995f"/><rect x="239" y="68.12" width="1" height="10.55" fill="#ebcaa8"/><rect x="240" y="68.12" width="1" height="10.55" fill="#a85510"/><rect x="241" y="68.12" width="1" height="10.55" fill="#d6995f"/><rect x="242" y="68.12" width="1" height="10.55" fill="#ebcaa8"/><rect x="243" y="68.12" width="1" height="10.55" fill="#a85510"/><rect x="244" y="68.12" width="1" height="10.55" fill="#d6995f"/><rect x="60" y="79.58" width="1" height="10.55" fill="#4a1060"/><rect x="61" y="79.58" width="1" height="10.55" fill="#8a5a9c"/><rect x="62" y="79.58" width="1" height="10.55" fill="#c4aacd"/><rect x="108" y="79.58" width="1" height="10.55" fill="#4a1060"/><rect x="109" y="79.58" width="1" height="10.55" fill="#8a5a9c"/><rect x="110" y="79.58" width="1" height="10.55" fill="#4a1060"/><rect x="111" y="79.58" width="1" height="10.55" fill="#8a5a9c"/><rect x="112" y="79.58" width="1" height="10.55" fill="#c4aacd"/><rect x="113" y="79.58" width="1" height="10.55" fill="#4a1060"/><rect x="114" y="79.58" width="1" height="10.55" fill="#8a5a9c"/><rect x="115" y="79.58" width="1" height="10.55" fill="#c4aacd"/><rect x="227" y="79.58" width="1" height="10.55" fill="#4a1060"/><rect x="228" y="79.58" width="1" height="10.55" fill="#8a5a9c"/><rect x="229" y="79.58" width="1" height="10.55" fill="#4a1060"/><rect x="230" y="79.58" width="1" height="10.55" fill="#8a5a9c"/><rect x="231" y="79.58" width="1" height="10.55" fill="#c4aacd"/><rect x="245" y="79.58" width="1" height="10.55" fill="#4a1060"/><rect x="246" y="79.58" width="1" height="10.55" fill="#8a5a9c"/><rect x="247" y="79.58" width="1" height="10.55" fill="#c4aacd"/><rect x="248" y="79.58" width="1" height="10.55" fill="#4a1060"/><rect x="249" y="79.58" width="1" height="10.55" fill="#8a5a9c"/><rect x="250" y="79.58" width="1" height="10.55" fill="#c4aacd"/><rect x="251" y="79.58" width="1" height="10.55" fill="#4a1060"/><rect x="252" y="79.58" width="1" height="10.55" fill="#8a5a9c"/><rect x="253" y="79.58" width="1" height="10.55" fill="#4a1060"/><rect x="254" y="79.58" width="1" height="10.55" fill="#8a5a9c"/><rect x="255" y="79.58" width="1" height="10.55" fill="#c4aacd"/><rect x="256" y="79.58" width="1" height="10.55" fill="#4a1060"/><rect x="257" y="79.58" width="1" height="10.55" fill="#8a5a9c"/><rect x="258" y="79.58" width="1" height="10.55" fill="#4a1060"/><rect x="259" y="79.58" width="1" height="10.55" fill="#8a5a9c"/><rect x="260" y="79.58" width="1" height="10.55" fill="#c4aacd"/><rect x="261" y="79.58" width="1" height="10.55" fill="#4a1060"/><rect x="262" y="79.58" width="1" height="10.55" fill="#8a5a9c"/><rect x="263" y="79.58" width="1" height="10.55" fill="#c4aacd"/><rect x="264" y="79.58" width="1" height="10.55" fill="#4a1060"/><rect x="265" y="79.58" width="1" height="10.55" fill="#8a5a9c"/><rect x="266" y="79.58" width="1" height="10.55" fill="#4a1060"/><rect x="267" y="79.58" width="1" height="10.55" fill="#8a5a9c"/><rect x="268" y="79.58" width="1" height="10.55" fill="#c4aacd"/><rect x="57" y="91.03" width="1" height="10.55" fill="#0b5a40"/><rect x="58" y="91.03" width="1" height="10.55" fill="#3d8a6e"/><rect x="59" y="91.03" width="1" height="10.55" fill="#a8cdbd"/><rect x="63" y="91.03" width="1" height="10.55" fill="#0b5a40"/><rect x="64" y="91.03" width="1" height="10.55" fill="#3d8a6e"/><rect x="65" y="91.03" width="1" height="10.55" fill="#0b5a40"/><rect x="66" y="91.03" width="1" height="10.55" fill="#3d8a6e"/><rect x="67" y="91.03" width="1" height="10.55" fill="#a8cdbd"/><rect x="68" y="91.03" width="1" height="10.55" fill="#0b5a40"/><rect x="69" y="91.03" width="1" height="10.55" fill="#3d8a6e"/><rect x="70" y="91.03" width="1" height="10.55" fill="#a8cdbd"/><rect x="71" y="91.03" width="1" height="10.55" fill="#0b5a40"/><rect x="72" y="91.03" width="1" height="10.55" fill="#3d8a6e"/><rect x="84" y="91.03" width="1" height="10.55" fill="#b3c49c"/><rect x="85" y="91.03" width="1" height="10.55" fill="#cbd7bb"/><rect x="86" y="91.03" width="1" height="10.55" fill="#e2e9d8"/><rect x="87" y="91.03" width="1" height="10.55" fill="#0b5a40"/><rect x="88" y="91.03" width="1" height="10.55" fill="#3d8a6e"/><rect x="89" y="91.03" width="1" height="10.55" fill="#0b5a40"/><rect x="90" y="91.03" width="1" height="10.55" fill="#3d8a6e"/><rect x="91" y="91.03" width="1" height="10.55" fill="#a8cdbd"/><rect x="97" y="91.03" width="1" height="10.55" fill="#0b5a40"/><rect x="98" y="91.03" width="1" height="10.55" fill="#3d8a6e"/><rect x="99" y="91.03" width="1" height="10.55" fill="#a8cdbd"/><rect x="100" y="91.03" width="1" height="10.55" fill="#0b5a40"/><rect x="101" y="91.03" width="1" height="10.55" fill="#3d8a6e"/><rect x="116" y="91.03" width="1" height="10.55" fill="#0b5a40"/><rect x="117" y="91.03" width="1" height="10.55" fill="#3d8a6e"/><rect x="139" y="91.03" width="1" height="10.55" fill="#b3c49c"/><rect x="140" y="91.03" width="1" height="10.55" fill="#cbd7bb"/><rect x="141" y="91.03" width="1" height="10.55" fill="#e2e9d8"/><rect x="142" y="91.03" width="1" height="10.55" fill="#b3c49c"/><rect x="143" y="91.03" width="1" height="10.55" fill="#cbd7bb"/><rect x="144" y="91.03" width="1" height="10.55" fill="#e2e9d8"/><rect x="145" y="91.03" width="1" height="10.55" fill="#b3c49c"/><rect x="146" y="91.03" width="1" height="10.55" fill="#cbd7bb"/><rect x="150" y="91.03" width="1" height="10.55" fill="#0b5a40"/><rect x="151" y="91.03" width="1" height="10.55" fill="#3d8a6e"/><rect x="152" y="91.03" width="1" height="10.55" fill="#a8cdbd"/><rect x="158" y="91.03" width="1" height="10.55" fill="#0b5a40"/><rect x="159" y="91.03" width="1" height="10.55" fill="#3d8a6e"/><rect x="160" y="91.03" width="1" height="10.55" fill="#a8cdbd"/><rect x="243" y="91.03" width="1" height="10.55" fill="#b3c49c"/><rect x="244" y="91.03" width="1" height="10.55" fill="#cbd7bb"/><rect x="264" y="91.03" width="1" height="10.55" fill="#b3c49c"/><rect x="265" y="91.03" width="1" height="10.55" fill="#cbd7bb"/><rect x="266" y="91.03" width="1" height="10.55" fill="#b3c49c"/><rect x="267" y="91.03" width="1" height="10.55" fill="#cbd7bb"/><rect x="268" y="91.03" width="1" height="10.55" fill="#e2e9d8"/><rect x="269" y="91.03" width="1" height="10.55" fill="#0b5a40"/><rect x="270" y="91.03" width="1" height="10.55" fill="#3d8a6e"/><rect x="271" y="91.03" width="1" height="10.55" fill="#a8cdbd"/><rect x="330" y="91.03" width="1" height="10.55" fill="#b3c49c"/><rect x="331" y="91.03" width="1" height="10.55" fill="#cbd7bb"/><rect x="332" y="91.03" width="1" height="10.55" fill="#e2e9d8"/><rect x="333" y="91.03" width="1" height="10.55" fill="#b3c49c"/><rect x="334" y="91.03" width="1" height="10.55" fill="#cbd7bb"/><rect x="335" y="91.03" width="1" height="10.55" fill="#b3c49c"/><rect x="336" y="91.03" width="1" height="10.55" fill="#cbd7bb"/><rect x="337" y="91.03" width="1" height="10.55" fill="#e2e9d8"/><rect x="338" y="91.03" width="1" height="10.55" fill="#b3c49c"/><rect x="339" y="91.03" width="1" height="10.55" fill="#cbd7bb"/><rect x="340" y="91.03" width="1" height="10.55" fill="#b3c49c"/><rect x="341" y="91.03" width="1" height="10.55" fill="#cbd7bb"/><rect x="342" y="91.03" width="1" height="10.55" fill="#e2e9d8"/><rect x="84" y="102.48" width="1" height="10.55" fill="#b3c49c"/><rect x="85" y="102.48" width="1" height="10.55" fill="#cbd7bb"/><rect x="86" y="102.48" width="1" height="10.55" fill="#e2e9d8"/><rect x="87" y="102.48" width="1" height="10.55" fill="#a85510"/><rect x="88" y="102.48" width="1" height="10.55" fill="#d6995f"/><rect x="132" y="102.48" width="1" height="10.55" fill="#b3c49c"/><rect x="133" y="102.48" width="1" height="10.55" fill="#cbd7bb"/><rect x="134" y="102.48" width="1" height="10.55" fill="#b3c49c"/><rect x="135" y="102.48" width="1" height="10.55" fill="#cbd7bb"/><rect x="136" y="102.48" width="1" height="10.55" fill="#e2e9d8"/><rect x="137" y="102.48" width="1" height="10.55" fill="#b3c49c"/><rect x="138" y="102.48" width="1" height="10.55" fill="#cbd7bb"/><rect x="139" y="102.48" width="1" height="10.55" fill="#b3c49c"/><rect x="140" y="102.48" width="1" height="10.55" fill="#cbd7bb"/><rect x="141" y="102.48" width="1" height="10.55" fill="#e2e9d8"/><rect x="142" y="102.48" width="1" height="10.55" fill="#b3c49c"/><rect x="143" y="102.48" width="1" height="10.55" fill="#cbd7bb"/><rect x="144" y="102.48" width="1" height="10.55" fill="#e2e9d8"/><rect x="145" y="102.48" width="1" height="10.55" fill="#b3c49c"/><rect x="146" y="102.48" width="1" height="10.55" fill="#cbd7bb"/><rect x="147" y="102.48" width="1" height="10.55" fill="#b3c49c"/><rect x="148" y="102.48" width="1" height="10.55" fill="#cbd7bb"/><rect x="149" y="102.48" width="1" height="10.55" fill="#e2e9d8"/><rect x="150" y="102.48" width="1" height="10.55" fill="#a85510"/><rect x="151" y="102.48" width="1" height="10.55" fill="#d6995f"/><rect x="152" y="102.48" width="1" height="10.55" fill="#ebcaa8"/><rect x="161" y="102.48" width="1" height="10.55" fill="#a85510"/><rect x="162" y="102.48" width="1" height="10.55" fill="#d6995f"/><rect x="163" y="102.48" width="1" height="10.55" fill="#a85510"/><rect x="164" y="102.48" width="1" height="10.55" fill="#d6995f"/><rect x="165" y="102.48" width="1" height="10.55" fill="#ebcaa8"/><rect x="192" y="102.48" width="1" height="10.55" fill="#a85510"/><rect x="193" y="102.48" width="1" height="10.55" fill="#d6995f"/><rect x="194" y="102.48" width="1" height="10.55" fill="#ebcaa8"/><rect x="224" y="102.48" width="1" height="10.55" fill="#b3c49c"/><rect x="225" y="102.48" width="1" height="10.55" fill="#cbd7bb"/><rect x="226" y="102.48" width="1" height="10.55" fill="#e2e9d8"/><rect x="229" y="102.48" width="1" height="10.55" fill="#b3c49c"/><rect x="230" y="102.48" width="1" height="10.55" fill="#cbd7bb"/><rect x="231" y="102.48" width="1" height="10.55" fill="#e2e9d8"/><rect x="240" y="102.48" width="1" height="10.55" fill="#b3c49c"/><rect x="241" y="102.48" width="1" height="10.55" fill="#cbd7bb"/><rect x="242" y="102.48" width="1" height="10.55" fill="#e2e9d8"/><rect x="243" y="102.48" width="1" height="10.55" fill="#b3c49c"/><rect x="244" y="102.48" width="1" height="10.55" fill="#cbd7bb"/><rect x="245" y="102.48" width="1" height="10.55" fill="#a85510"/><rect x="246" y="102.48" width="1" height="10.55" fill="#d6995f"/><rect x="247" y="102.48" width="1" height="10.55" fill="#ebcaa8"/><rect x="248" y="102.48" width="1" height="10.55" fill="#a85510"/><rect x="249" y="102.48" width="1" height="10.55" fill="#d6995f"/><rect x="250" y="102.48" width="1" height="10.55" fill="#ebcaa8"/><rect x="264" y="102.48" width="1" height="10.55" fill="#b3c49c"/><rect x="265" y="102.48" width="1" height="10.55" fill="#cbd7bb"/><rect x="266" y="102.48" width="1" height="10.55" fill="#b3c49c"/><rect x="267" y="102.48" width="1" height="10.55" fill="#cbd7bb"/><rect x="268" y="102.48" width="1" height="10.55" fill="#e2e9d8"/><rect x="272" y="102.48" width="1" height="10.55" fill="#a85510"/><rect x="273" y="102.48" width="1" height="10.55" fill="#d6995f"/><rect x="274" y="102.48" width="1" height="10.55" fill="#a85510"/><rect x="275" y="102.48" width="1" height="10.55" fill="#d6995f"/><rect x="276" y="102.48" width="1" height="10.55" fill="#ebcaa8"/><rect x="277" y="102.48" width="1" height="10.55" fill="#a85510"/><rect x="278" y="102.48" width="1" height="10.55" fill="#d6995f"/><rect x="279" y="102.48" width="1" height="10.55" fill="#ebcaa8"/><rect x="280" y="102.48" width="1" height="10.55" fill="#a85510"/><rect x="281" y="102.48" width="1" height="10.55" fill="#d6995f"/><rect x="330" y="102.48" width="1" height="10.55" fill="#b3c49c"/><rect x="331" y="102.48" width="1" height="10.55" fill="#cbd7bb"/><rect x="332" y="102.48" width="1" height="10.55" fill="#e2e9d8"/><rect x="333" y="102.48" width="1" height="10.55" fill="#b3c49c"/><rect x="334" y="102.48" width="1" height="10.55" fill="#cbd7bb"/><rect x="335" y="102.48" width="1" height="10.55" fill="#b3c49c"/><rect x="336" y="102.48" width="1" height="10.55" fill="#cbd7bb"/><rect x="337" y="102.48" width="1" height="10.55" fill="#e2e9d8"/><rect x="338" y="102.48" width="1" height="10.55" fill="#b3c49c"/><rect x="339" y="102.48" width="1" height="10.55" fill="#cbd7bb"/><rect x="340" y="102.48" width="1" height="10.55" fill="#b3c49c"/><rect x="341" y="102.48" width="1" height="10.55" fill="#cbd7bb"/><rect x="342" y="102.48" width="1" height="10.55" fill="#e2e9d8"/><rect x="108" y="113.94" width="1" height="10.55" fill="#0d4078"/><rect x="109" y="113.94" width="1" height="10.55" fill="#285f98"/><rect x="118" y="113.94" width="1" height="10.55" fill="#0d4078"/><rect x="119" y="113.94" width="1" height="10.55" fill="#285f98"/><rect x="120" y="113.94" width="1" height="10.55" fill="#a8bfd6"/><rect x="139" y="113.94" width="1" height="10.55" fill="#0d4078"/><rect x="140" y="113.94" width="1" height="10.55" fill="#285f98"/><rect x="141" y="113.94" width="1" height="10.55" fill="#a8bfd6"/><rect x="153" y="113.94" width="1" height="10.55" fill="#0d4078"/><rect x="154" y="113.94" width="1" height="10.55" fill="#285f98"/><rect x="155" y="113.94" width="1" height="10.55" fill="#0d4078"/><rect x="156" y="113.94" width="1" height="10.55" fill="#285f98"/><rect x="157" y="113.94" width="1" height="10.55" fill="#a8bfd6"/><rect x="161" y="113.94" width="1" height="10.55" fill="#0d4078"/><rect x="162" y="113.94" width="1" height="10.55" fill="#285f98"/><rect x="166" y="113.94" width="1" height="10.55" fill="#0d4078"/><rect x="167" y="113.94" width="1" height="10.55" fill="#285f98"/><rect x="168" y="113.94" width="1" height="10.55" fill="#a8bfd6"/><rect x="195" y="113.94" width="1" height="10.55" fill="#0d4078"/><rect x="196" y="113.94" width="1" height="10.55" fill="#285f98"/><rect x="197" y="113.94" width="1" height="10.55" fill="#a8bfd6"/><rect x="272" y="113.94" width="1" height="10.55" fill="#0d4078"/><rect x="273" y="113.94" width="1" height="10.55" fill="#285f98"/><rect x="282" y="113.94" width="1" height="10.55" fill="#0d4078"/><rect x="283" y="113.94" width="1" height="10.55" fill="#285f98"/><rect x="284" y="113.94" width="1" height="10.55" fill="#a8bfd6"/><rect x="285" y="113.94" width="1" height="10.55" fill="#0d4078"/><rect x="286" y="113.94" width="1" height="10.55" fill="#285f98"/><rect x="287" y="113.94" width="1" height="10.55" fill="#a8bfd6"/><rect x="288" y="113.94" width="1" height="10.55" fill="#0d4078"/><rect x="289" y="113.94" width="1" height="10.55" fill="#285f98"/><rect x="330" y="113.94" width="1" height="10.55" fill="#0d4078"/><rect x="331" y="113.94" width="1" height="10.55" fill="#285f98"/><rect x="332" y="113.94" width="1" height="10.55" fill="#a8bfd6"/><rect x="55" y="125.39" width="1" height="10.55" fill="#f58a10"/><rect x="56" y="125.39" width="1" height="10.55" fill="#f89c34"/><rect x="60" y="125.39" width="1" height="10.55" fill="#f58a10"/><rect x="61" y="125.39" width="1" height="10.55" fill="#f89c34"/><rect x="62" y="125.39" width="1" height="10.55" fill="#fcd6a8"/><rect x="97" y="125.39" width="1" height="10.55" fill="#f58a10"/><rect x="98" y="125.39" width="1" height="10.55" fill="#f89c34"/><rect x="99" y="125.39" width="1" height="10.55" fill="#fcd6a8"/><rect x="121" y="125.39" width="1" height="10.55" fill="#f58a10"/><rect x="122" y="125.39" width="1" height="10.55" fill="#f89c34"/><rect x="123" y="125.39" width="1" height="10.55" fill="#fcd6a8"/><rect x="132" y="125.39" width="1" height="10.55" fill="#f58a10"/><rect x="133" y="125.39" width="1" height="10.55" fill="#f89c34"/><rect x="147" y="125.39" width="1" height="10.55" fill="#f58a10"/><rect x="148" y="125.39" width="1" height="10.55" fill="#f89c34"/><rect x="149" y="125.39" width="1" height="10.55" fill="#fcd6a8"/><rect x="240" y="125.39" width="1" height="10.55" fill="#f58a10"/><rect x="241" y="125.39" width="1" height="10.55" fill="#f89c34"/><rect x="242" y="125.39" width="1" height="10.55" fill="#fcd6a8"/><rect x="243" y="125.39" width="1" height="10.55" fill="#f58a10"/><rect x="244" y="125.39" width="1" height="10.55" fill="#f89c34"/><rect x="251" y="125.39" width="1" height="10.55" fill="#f58a10"/><rect x="252" y="125.39" width="1" height="10.55" fill="#f89c34"/><rect x="282" y="125.39" width="1" height="10.55" fill="#f58a10"/><rect x="283" y="125.39" width="1" height="10.55" fill="#f89c34"/><rect x="284" y="125.39" width="1" height="10.55" fill="#fcd6a8"/><rect x="290" y="125.39" width="1" height="10.55" fill="#f58a10"/><rect x="291" y="125.39" width="1" height="10.55" fill="#f89c34"/><rect x="292" y="125.39" width="1" height="10.55" fill="#fcd6a8"/><rect x="293" y="125.39" width="1" height="10.55" fill="#f58a10"/><rect x="294" y="125.39" width="1" height="10.55" fill="#f89c34"/><rect x="295" y="125.39" width="1" height="10.55" fill="#f58a10"/><rect x="296" y="125.39" width="1" height="10.55" fill="#f89c34"/><rect x="297" y="125.39" width="1" height="10.55" fill="#fcd6a8"/><rect x="116" y="136.85" width="1" height="10.55" fill="#b80c2c"/><rect x="117" y="136.85" width="1" height="10.55" fill="#cf2846"/><rect x="124" y="136.85" width="1" height="10.55" fill="#b80c2c"/><rect x="125" y="136.85" width="1" height="10.55" fill="#cf2846"/><rect x="147" y="136.85" width="1" height="10.55" fill="#b80c2c"/><rect x="148" y="136.85" width="1" height="10.55" fill="#cf2846"/><rect x="149" y="136.85" width="1" height="10.55" fill="#eeb0bb"/><rect x="190" y="136.85" width="1" height="10.55" fill="#b80c2c"/><rect x="191" y="136.85" width="1" height="10.55" fill="#cf2846"/><rect x="198" y="136.85" width="1" height="10.55" fill="#b80c2c"/><rect x="199" y="136.85" width="1" height="10.55" fill="#cf2846"/><rect x="200" y="136.85" width="1" height="10.55" fill="#b80c2c"/><rect x="201" y="136.85" width="1" height="10.55" fill="#cf2846"/><rect x="202" y="136.85" width="1" height="10.55" fill="#eeb0bb"/><rect x="269" y="136.85" width="1" height="10.55" fill="#b80c2c"/><rect x="270" y="136.85" width="1" height="10.55" fill="#cf2846"/><rect x="271" y="136.85" width="1" height="10.55" fill="#eeb0bb"/><rect x="272" y="136.85" width="1" height="10.55" fill="#b80c2c"/><rect x="273" y="136.85" width="1" height="10.55" fill="#cf2846"/><rect x="285" y="136.85" width="1" height="10.55" fill="#b80c2c"/><rect x="286" y="136.85" width="1" height="10.55" fill="#cf2846"/><rect x="287" y="136.85" width="1" height="10.55" fill="#eeb0bb"/><rect x="298" y="136.85" width="1" height="10.55" fill="#b80c2c"/><rect x="299" y="136.85" width="1" height="10.55" fill="#cf2846"/><rect x="300" y="136.85" width="1" height="10.55" fill="#eeb0bb"/><rect x="301" y="136.85" width="1" height="10.55" fill="#b80c2c"/><rect x="302" y="136.85" width="1" height="10.55" fill="#cf2846"/><rect x="124" y="148.31" width="1" height="10.55" fill="#27a03c"/><rect x="125" y="148.31" width="1" height="10.55" fill="#44b957"/><rect x="134" y="148.31" width="1" height="10.55" fill="#27a03c"/><rect x="135" y="148.31" width="1" height="10.55" fill="#44b957"/><rect x="136" y="148.31" width="1" height="10.55" fill="#b6e2bd"/><rect x="153" y="148.31" width="1" height="10.55" fill="#27a03c"/><rect x="154" y="148.31" width="1" height="10.55" fill="#44b957"/><rect x="166" y="148.31" width="1" height="10.55" fill="#27a03c"/><rect x="167" y="148.31" width="1" height="10.55" fill="#44b957"/><rect x="168" y="148.31" width="1" height="10.55" fill="#b6e2bd"/><rect x="169" y="148.31" width="1" height="10.55" fill="#27a03c"/><rect x="170" y="148.31" width="1" height="10.55" fill="#44b957"/><rect x="195" y="148.31" width="1" height="10.55" fill="#27a03c"/><rect x="196" y="148.31" width="1" height="10.55" fill="#44b957"/><rect x="197" y="148.31" width="1" height="10.55" fill="#b6e2bd"/><rect x="198" y="148.31" width="1" height="10.55" fill="#27a03c"/><rect x="199" y="148.31" width="1" height="10.55" fill="#44b957"/><rect x="274" y="148.31" width="1" height="10.55" fill="#27a03c"/><rect x="275" y="148.31" width="1" height="10.55" fill="#44b957"/><rect x="276" y="148.31" width="1" height="10.55" fill="#b6e2bd"/><rect x="290" y="148.31" width="1" height="10.55" fill="#27a03c"/><rect x="291" y="148.31" width="1" height="10.55" fill="#44b957"/><rect x="292" y="148.31" width="1" height="10.55" fill="#b6e2bd"/><rect x="298" y="148.31" width="1" height="10.55" fill="#27a03c"/><rect x="299" y="148.31" width="1" height="10.55" fill="#44b957"/><rect x="300" y="148.31" width="1" height="10.55" fill="#b6e2bd"/><rect x="303" y="148.31" width="1" height="10.55" fill="#27a03c"/><rect x="304" y="148.31" width="1" height="10.55" fill="#44b957"/><rect x="305" y="148.31" width="1" height="10.55" fill="#b6e2bd"/><rect x="153" y="159.76" width="1" height="10.55" fill="#de0a80"/><rect x="154" y="159.76" width="1" height="10.55" fill="#ec2a94"/><rect x="192" y="159.76" width="1" height="10.55" fill="#de0a80"/><rect x="193" y="159.76" width="1" height="10.55" fill="#ec2a94"/><rect x="194" y="159.76" width="1" height="10.55" fill="#f8bcdc"/><rect x="290" y="159.76" width="1" height="10.55" fill="#de0a80"/><rect x="291" y="159.76" width="1" height="10.55" fill="#ec2a94"/><rect x="292" y="159.76" width="1" height="10.55" fill="#f8bcdc"/></g>
<line x1="405.50" y1="30.4" x2="405.50" y2="171" stroke="#222" stroke-width="1.35" stroke-dasharray="1.8 2.53"/>
<line x1="445.70" y1="30.4" x2="445.70" y2="171" stroke="#222" stroke-width="1.35" stroke-dasharray="1.8 2.53"/>
<line x1="485.90" y1="30.4" x2="485.90" y2="171" stroke="#222" stroke-width="1.35" stroke-dasharray="1.8 2.53"/>
<rect x="365.3" y="34.75" width="128.74" height="7.1" fill="#4a5668" stroke="#2c3849" stroke-width="0.5"/>
<line x1="362.0" y1="38.50" x2="365.3" y2="38.50" stroke="#111" stroke-width="0.9"/>
<rect x="365.3" y="46.17" width="103.01" height="7.1" fill="#4a5668" stroke="#2c3849" stroke-width="0.5"/>
<line x1="362.0" y1="49.50" x2="365.3" y2="49.50" stroke="#111" stroke-width="0.9"/>
<rect x="365.3" y="57.59" width="84.52" height="7.1" fill="#4a5668" stroke="#2c3849" stroke-width="0.5"/>
<line x1="362.0" y1="61.50" x2="365.3" y2="61.50" stroke="#111" stroke-width="0.9"/>
<rect x="365.3" y="69.01" width="58.79" height="7.1" fill="#4a5668" stroke="#2c3849" stroke-width="0.5"/>
<line x1="362.0" y1="72.50" x2="365.3" y2="72.50" stroke="#111" stroke-width="0.9"/>
<rect x="365.3" y="80.43" width="55.18" height="7.1" fill="#4a5668" stroke="#2c3849" stroke-width="0.5"/>
<line x1="362.0" y1="83.50" x2="365.3" y2="83.50" stroke="#111" stroke-width="0.9"/>
<rect x="365.3" y="91.85" width="53.57" height="7.1" fill="#4a5668" stroke="#2c3849" stroke-width="0.5"/>
<line x1="362.0" y1="95.50" x2="365.3" y2="95.50" stroke="#111" stroke-width="0.9"/>
<rect x="365.3" y="103.27" width="48.74" height="7.1" fill="#4a5668" stroke="#2c3849" stroke-width="0.5"/>
<line x1="362.0" y1="106.50" x2="365.3" y2="106.50" stroke="#111" stroke-width="0.9"/>
<rect x="365.3" y="114.69" width="47.54" height="7.1" fill="#4a5668" stroke="#2c3849" stroke-width="0.5"/>
<line x1="362.0" y1="118.50" x2="365.3" y2="118.50" stroke="#111" stroke-width="0.9"/>
<rect x="365.3" y="126.11" width="47.54" height="7.1" fill="#4a5668" stroke="#2c3849" stroke-width="0.5"/>
<line x1="362.0" y1="129.50" x2="365.3" y2="129.50" stroke="#111" stroke-width="0.9"/>
<rect x="365.3" y="137.53" width="40.30" height="7.1" fill="#4a5668" stroke="#2c3849" stroke-width="0.5"/>
<line x1="362.0" y1="141.50" x2="365.3" y2="141.50" stroke="#111" stroke-width="0.9"/>
<rect x="365.3" y="148.95" width="40.30" height="7.1" fill="#4a5668" stroke="#2c3849" stroke-width="0.5"/>
<line x1="362.0" y1="152.50" x2="365.3" y2="152.50" stroke="#111" stroke-width="0.9"/>
<rect x="365.3" y="160.37" width="10.75" height="7.1" fill="#4a5668" stroke="#2c3849" stroke-width="0.5"/>
<line x1="362.0" y1="163.50" x2="365.3" y2="163.50" stroke="#111" stroke-width="0.9"/>
<line x1="365.3" y1="30.9" x2="365.3" y2="171.7" stroke="#111" stroke-width="1"/>
<line x1="364.8" y1="171.5" x2="510" y2="171.5" stroke="#111" stroke-width="1.2"/>
<line x1="365.30" y1="171.2" x2="365.30" y2="174.8" stroke="#111" stroke-width="0.9"/>
<text x="365.30" y="183.60" font-size="8.5" text-anchor="middle" fill="#222" stroke="#222" stroke-width="0.22" textLength="4.17" lengthAdjust="spacingAndGlyphs" >0</text>
<line x1="385.40" y1="171.2" x2="385.40" y2="174.8" stroke="#111" stroke-width="0.9"/>
<text x="385.40" y="183.60" font-size="8.5" text-anchor="middle" fill="#222" stroke="#222" stroke-width="0.22" textLength="4.17" lengthAdjust="spacingAndGlyphs" >5</text>
<line x1="405.50" y1="171.2" x2="405.50" y2="174.8" stroke="#111" stroke-width="0.9"/>
<text x="405.50" y="183.60" font-size="8.5" text-anchor="middle" fill="#222" stroke="#222" stroke-width="0.22" textLength="8.34" lengthAdjust="spacingAndGlyphs" >10</text>
<line x1="425.60" y1="171.2" x2="425.60" y2="174.8" stroke="#111" stroke-width="0.9"/>
<text x="425.60" y="183.60" font-size="8.5" text-anchor="middle" fill="#222" stroke="#222" stroke-width="0.22" textLength="8.34" lengthAdjust="spacingAndGlyphs" >15</text>
<line x1="445.70" y1="171.2" x2="445.70" y2="174.8" stroke="#111" stroke-width="0.9"/>
<text x="445.70" y="183.60" font-size="8.5" text-anchor="middle" fill="#222" stroke="#222" stroke-width="0.22" textLength="8.34" lengthAdjust="spacingAndGlyphs" >20</text>
<line x1="465.80" y1="171.2" x2="465.80" y2="174.8" stroke="#111" stroke-width="0.9"/>
<text x="465.80" y="183.60" font-size="8.5" text-anchor="middle" fill="#222" stroke="#222" stroke-width="0.22" textLength="8.34" lengthAdjust="spacingAndGlyphs" >25</text>
<line x1="485.90" y1="171.2" x2="485.90" y2="174.8" stroke="#111" stroke-width="0.9"/>
<text x="485.90" y="183.60" font-size="8.5" text-anchor="middle" fill="#222" stroke="#222" stroke-width="0.22" textLength="8.34" lengthAdjust="spacingAndGlyphs" >30</text>
<line x1="506.00" y1="171.2" x2="506.00" y2="174.8" stroke="#111" stroke-width="0.9"/>
<text x="506.00" y="183.60" font-size="8.5" text-anchor="middle" fill="#222" stroke="#222" stroke-width="0.22" textLength="8.34" lengthAdjust="spacingAndGlyphs" >35</text>
<text x="414.20" y="198.30" font-size="10.0" text-anchor="start" fill="#333" stroke="#333" stroke-width="0.22" textLength="46.6" lengthAdjust="spacingAndGlyphs" >Frequency (%)</text>
<text x="7.80" y="225.40" font-size="10.2" text-anchor="start" fill="#000" font-weight="bold" stroke="#000" stroke-width="0.35" >B</text>
<rect x="60.3" y="228.6" width="317.0" height="68.6" fill="none" stroke="#111" stroke-width="1"/>
<text x="56.90" y="246.80" font-size="8.3" text-anchor="end" fill="#2a2a2a" font-style="italic" stroke="#2a2a2a" stroke-width="0.22" textLength="21.68" lengthAdjust="spacingAndGlyphs" >EVI1-r</text>
<text x="56.20" y="266.80" font-size="8.3" text-anchor="end" fill="#2a2a2a" stroke="#2a2a2a" stroke-width="0.22" >BeatAML</text>
<text x="56.40" y="286.80" font-size="8.3" text-anchor="end" fill="#2a2a2a" stroke="#2a2a2a" stroke-width="0.22" textLength="21.3" lengthAdjust="spacingAndGlyphs" >TCGA</text>
<text x="17.00" y="262.60" font-size="10.2" text-anchor="middle" fill="#333" stroke="#333" stroke-width="0.22" textLength="22.3" lengthAdjust="spacingAndGlyphs" transform="rotate(-90 17.00 262.60)" >Cohort</text>
<circle cx="76.00" cy="243.7" r="8.0" fill="#ff0000" stroke="#222" stroke-width="0.9"/>
<circle cx="76.00" cy="263.8" r="4.3" fill="#ff0000" stroke="#222" stroke-width="0.9"/>
<circle cx="76.00" cy="283.8" r="1.9" fill="#ff0000" stroke="#222" stroke-width="0.9"/>
<text x="81.30" y="304.20" font-size="7.8" text-anchor="end" fill="#2a2a2a" font-style="italic" stroke="#2a2a2a" stroke-width="0.22" transform="rotate(-45 81.30 304.20)" >SF3B1</text>
<circle cx="102.06" cy="243.7" r="7.7" fill="#ffbcc2" stroke="#222" stroke-width="0.9"/>
<circle cx="102.06" cy="263.8" r="5.6" fill="#ffc2c8" stroke="#222" stroke-width="0.9"/>
<circle cx="102.06" cy="283.8" r="4.3" fill="#ffc2c8" stroke="#222" stroke-width="0.9"/>
<text x="107.36" y="304.20" font-size="7.8" text-anchor="end" fill="#2a2a2a" font-style="italic" stroke="#2a2a2a" stroke-width="0.22" transform="rotate(-45 107.36 304.20)" >NRAS</text>
<circle cx="128.12" cy="243.7" r="6.9" fill="#ff949c" stroke="#222" stroke-width="0.9"/>
<circle cx="128.12" cy="263.8" r="3.6" fill="#ffa0a8" stroke="#222" stroke-width="0.9"/>
<circle cx="128.12" cy="283.8" r="3.8" fill="#ffa0a8" stroke="#222" stroke-width="0.9"/>
<text x="133.42" y="304.20" font-size="7.8" text-anchor="end" fill="#2a2a2a" font-style="italic" stroke="#2a2a2a" stroke-width="0.22" transform="rotate(-45 133.42 304.20)" >PTPN11</text>
<circle cx="154.18" cy="243.7" r="5.9" fill="#ffb0b6" stroke="#222" stroke-width="0.9"/>
<circle cx="154.18" cy="263.8" r="3.6" fill="#ffa6ae" stroke="#222" stroke-width="0.9"/>
<circle cx="154.18" cy="283.8" r="3.6" fill="#ffa6ae" stroke="#222" stroke-width="0.9"/>
<text x="159.48" y="304.20" font-size="7.8" text-anchor="end" fill="#2a2a2a" font-style="italic" stroke="#2a2a2a" stroke-width="0.22" transform="rotate(-45 159.48 304.20)" >KRAS</text>
<circle cx="180.24" cy="243.7" r="5.8" fill="#ffeef0" stroke="#222" stroke-width="0.9"/>
<circle cx="180.24" cy="263.8" r="4.8" fill="#fff0f2" stroke="#222" stroke-width="0.9"/>
<circle cx="180.24" cy="283.8" r="4.8" fill="#fff0f2" stroke="#222" stroke-width="0.9"/>
<text x="185.54" y="304.20" font-size="7.8" text-anchor="end" fill="#2a2a2a" font-style="italic" stroke="#2a2a2a" stroke-width="0.22" transform="rotate(-45 185.54 304.20)" >TP53</text>
<circle cx="206.30" cy="243.7" r="5.2" fill="#ffe2e6" stroke="#222" stroke-width="0.9"/>
<circle cx="206.30" cy="263.8" r="7.4" fill="#ffe8eb" stroke="#222" stroke-width="0.9"/>
<circle cx="206.30" cy="283.8" r="7.7" fill="#ffe6e9" stroke="#222" stroke-width="0.9"/>
<text x="211.60" y="304.20" font-size="7.8" text-anchor="end" fill="#2a2a2a" font-style="italic" stroke="#2a2a2a" stroke-width="0.22" transform="rotate(-45 211.60 304.20)" >DNMT3A</text>
<circle cx="232.36" cy="243.7" r="5.8" fill="#ffa4ac" stroke="#222" stroke-width="0.9"/>
<circle cx="232.36" cy="263.8" r="3.3" fill="#ffa4ac" stroke="#222" stroke-width="0.9"/>
<circle cx="232.36" cy="283.8" r="2.0" fill="#ffa4ac" stroke="#222" stroke-width="0.9"/>
<text x="237.66" y="304.20" font-size="7.8" text-anchor="end" fill="#2a2a2a" font-style="italic" stroke="#2a2a2a" stroke-width="0.22" transform="rotate(-45 237.66 304.20)" >GATA2</text>
<circle cx="258.42" cy="243.7" r="5.4" fill="#ffeaee" stroke="#222" stroke-width="0.9"/>
<circle cx="258.42" cy="263.8" r="5.1" fill="#ffeef0" stroke="#222" stroke-width="0.9"/>
<circle cx="258.42" cy="283.8" r="3.3" fill="#ffeef0" stroke="#222" stroke-width="0.9"/>
<text x="263.72" y="304.20" font-size="7.8" text-anchor="end" fill="#2a2a2a" font-style="italic" stroke="#2a2a2a" stroke-width="0.22" transform="rotate(-45 263.72 304.20)" >ASXL1</text>
<circle cx="284.48" cy="243.7" r="5.3" fill="#ffa0a8" stroke="#222" stroke-width="0.9"/>
<circle cx="284.48" cy="263.8" r="2.7" fill="#ffa4ac" stroke="#222" stroke-width="0.9"/>
<circle cx="284.48" cy="283.8" r="2.3" fill="#ffa4ac" stroke="#222" stroke-width="0.9"/>
<text x="289.78" y="304.20" font-size="7.8" text-anchor="end" fill="#2a2a2a" font-style="italic" stroke="#2a2a2a" stroke-width="0.22" transform="rotate(-45 289.78 304.20)" >NF1</text>
<circle cx="310.54" cy="243.7" r="4.85" fill="#ffa0a8" stroke="#222" stroke-width="0.9"/>
<circle cx="310.54" cy="263.8" r="8.2" fill="#ffa6ae" stroke="#222" stroke-width="0.9"/>
<circle cx="310.54" cy="283.8" r="7.9" fill="#ffa6ae" stroke="#222" stroke-width="0.9"/>
<text x="315.84" y="304.20" font-size="7.8" text-anchor="end" fill="#2a2a2a" font-style="italic" stroke="#2a2a2a" stroke-width="0.22" transform="rotate(-45 315.84 304.20)" >FLT3</text>
<circle cx="336.60" cy="243.7" r="5.4" fill="#ffffff" stroke="#222" stroke-width="0.9"/>
<circle cx="336.60" cy="263.8" r="5.7" fill="#ffffff" stroke="#222" stroke-width="0.9"/>
<circle cx="336.60" cy="283.8" r="4.4" fill="#ffffff" stroke="#222" stroke-width="0.9"/>
<text x="341.90" y="304.20" font-size="7.8" text-anchor="end" fill="#2a2a2a" font-style="italic" stroke="#2a2a2a" stroke-width="0.22" transform="rotate(-45 341.90 304.20)" >RUNX1</text>
<circle cx="362.66" cy="243.7" r="3.3" fill="#ffffff" stroke="#222" stroke-width="0.9"/>
<circle cx="362.66" cy="263.8" r="2.6" fill="#ffffff" stroke="#222" stroke-width="0.9"/>
<circle cx="362.66" cy="283.8" r="4.2" fill="#ffffff" stroke="#222" stroke-width="0.9"/>
<text x="367.96" y="304.20" font-size="7.8" text-anchor="end" fill="#2a2a2a" font-style="italic" stroke="#2a2a2a" stroke-width="0.22" transform="rotate(-45 367.96 304.20)" >KIT</text>
<text x="203.80" y="340.40" font-size="9.7" text-anchor="start" fill="#333" stroke="#333" stroke-width="0.22" textLength="30" lengthAdjust="spacingAndGlyphs" >Mutation</text>
<text x="392.30" y="240.00" font-size="7.4" text-anchor="start" fill="#333" stroke="#333" stroke-width="0.22" textLength="46.9" lengthAdjust="spacingAndGlyphs" >Frequency (%)</text>
<circle cx="402.7" cy="245.3" r="0.9" fill="#111"/>
<circle cx="402.7" cy="258.0" r="4.8" fill="none" stroke="#111" stroke-width="0.9"/>
<text x="414.00" y="260.70" font-size="7.4" text-anchor="start" fill="#222" stroke="#222" stroke-width="0.22" >10</text>
<circle cx="402.7" cy="272.1" r="6.6" fill="none" stroke="#111" stroke-width="0.9"/>
<text x="414.00" y="274.80" font-size="7.4" text-anchor="start" fill="#222" stroke="#222" stroke-width="0.22" >20</text>
<circle cx="402.7" cy="290.7" r="8.3" fill="none" stroke="#111" stroke-width="0.9"/>
<text x="414.00" y="293.40" font-size="7.4" text-anchor="start" fill="#222" stroke="#222" stroke-width="0.22" >30</text>
<text x="414.00" y="248.00" font-size="7.4" text-anchor="start" fill="#222" stroke="#222" stroke-width="0.22" >0</text>
<defs><linearGradient id="cb" x1="0" y1="0" x2="0" y2="1"><stop offset="0" stop-color="#ff0000"/><stop offset="1" stop-color="#ffffff"/></linearGradient></defs>
<rect x="452.5" y="239.9" width="12.1" height="60.6" fill="url(#cb)"/>
<line x1="452.5" y1="259.5" x2="454.5" y2="259.5" stroke="#fff" stroke-width="0.6"/><line x1="462.6" y1="259.5" x2="464.6" y2="259.5" stroke="#fff" stroke-width="0.6"/>
<line x1="452.5" y1="280.3" x2="454.5" y2="280.3" stroke="#fff" stroke-width="0.6"/><line x1="462.6" y1="280.3" x2="464.6" y2="280.3" stroke="#fff" stroke-width="0.6"/>
<line x1="452.5" y1="291.7" x2="454.5" y2="291.7" stroke="#fff" stroke-width="0.6"/><line x1="462.6" y1="291.7" x2="464.6" y2="291.7" stroke="#fff" stroke-width="0.6"/>
<text x="466.60" y="242.90" font-size="7.4" text-anchor="start" fill="#222" stroke="#222" stroke-width="0.22" >15</text>
<text x="466.60" y="262.60" font-size="7.4" text-anchor="start" fill="#222" stroke="#222" stroke-width="0.22" >10</text>
<text x="466.60" y="283.30" font-size="7.4" text-anchor="start" fill="#222" stroke="#222" stroke-width="0.22" >5</text>
<text x="466.60" y="294.90" font-size="7.4" text-anchor="start" fill="#222" stroke="#222" stroke-width="0.22" >2</text>
<text x="466.60" y="303.20" font-size="7.4" text-anchor="start" fill="#222" stroke="#222" stroke-width="0.22" >0</text>
<text x="462.30" y="225.80" font-size="7.4" text-anchor="middle" fill="#222" stroke="#222" stroke-width="0.22" textLength="26" lengthAdjust="spacingAndGlyphs" >−Log10</text>
<text x="461.60" y="234.60" font-size="7.4" text-anchor="middle" fill="#222" stroke="#222" stroke-width="0.22" textLength="28.2" lengthAdjust="spacingAndGlyphs" >(P-value)</text>
<text x="7.60" y="368.20" font-size="10.8" text-anchor="start" fill="#000" font-weight="bold" stroke="#000" stroke-width="0.35" >C</text>
<line x1="56.9" y1="389.2" x2="56.9" y2="501.3" stroke="#333" stroke-width="1.2"/>
<line x1="54.6" y1="500.9" x2="296.5" y2="500.9" stroke="#222" stroke-width="1.1"/>
<line x1="54.2" y1="500.90" x2="56.9" y2="500.90" stroke="#444" stroke-width="0.8"/>
<text x="50.90" y="503.40" font-size="8.4" text-anchor="end" fill="#333" stroke="#333" stroke-width="0.22" textLength="11.26" lengthAdjust="spacingAndGlyphs" >0.0</text>
<line x1="54.2" y1="479.44" x2="56.9" y2="479.44" stroke="#444" stroke-width="0.8"/>
<text x="50.90" y="481.94" font-size="8.4" text-anchor="end" fill="#333" stroke="#333" stroke-width="0.22" textLength="11.26" lengthAdjust="spacingAndGlyphs" >0.2</text>
<line x1="54.2" y1="457.98" x2="56.9" y2="457.98" stroke="#444" stroke-width="0.8"/>
<text x="50.90" y="460.48" font-size="8.4" text-anchor="end" fill="#333" stroke="#333" stroke-width="0.22" textLength="11.26" lengthAdjust="spacingAndGlyphs" >0.4</text>
<line x1="54.2" y1="436.52" x2="56.9" y2="436.52" stroke="#444" stroke-width="0.8"/>
<text x="50.90" y="439.02" font-size="8.4" text-anchor="end" fill="#333" stroke="#333" stroke-width="0.22" textLength="11.26" lengthAdjust="spacingAndGlyphs" >0.6</text>
<line x1="54.2" y1="415.06" x2="56.9" y2="415.06" stroke="#444" stroke-width="0.8"/>
<text x="50.90" y="417.56" font-size="8.4" text-anchor="end" fill="#333" stroke="#333" stroke-width="0.22" textLength="11.26" lengthAdjust="spacingAndGlyphs" >0.8</text>
<line x1="54.2" y1="393.60" x2="56.9" y2="393.60" stroke="#444" stroke-width="0.8"/>
<text x="50.90" y="396.10" font-size="8.4" text-anchor="end" fill="#333" stroke="#333" stroke-width="0.22" textLength="11.26" lengthAdjust="spacingAndGlyphs" >1.0</text>
<text x="34.40" y="447.30" font-size="9.5" text-anchor="middle" fill="#333" stroke="#333" stroke-width="0.22" textLength="25.4" lengthAdjust="spacingAndGlyphs" transform="rotate(-90 34.40 447.30)" >VAF (%)</text>
<line x1="68.10" y1="420.8" x2="68.10" y2="483.8" stroke="#3a3a3a" stroke-width="1"/>
<rect x="62.90" y="442.0" width="10.4" height="31.00" fill="#86a6c6"/>
<line x1="62.90" y1="450.8" x2="73.30" y2="450.8" stroke="#1a1a1a" stroke-width="1.1"/>
<path d="M65.10 420.8H71.10M65.10 483.8H71.10" stroke="#2a2a2a" stroke-width="1.0"/>
<circle cx="68.10" cy="420.8" r="1.95" fill="#0e4c8a"/>
<circle cx="64.60" cy="450.8" r="1.95" fill="#0e4c8a"/>
<circle cx="68.10" cy="448.2" r="1.95" fill="#0e4c8a"/>
<circle cx="71.60" cy="450.8" r="1.95" fill="#0e4c8a"/>
<circle cx="68.10" cy="470.0" r="1.95" fill="#0e4c8a"/>
<circle cx="68.10" cy="483.8" r="1.95" fill="#0e4c8a"/>
<line x1="68.10" y1="501" x2="68.10" y2="503.8" stroke="#222" stroke-width="0.8"/>
<text x="72.10" y="511.50" font-size="8.0" text-anchor="end" fill="#2a2a2a" stroke="#2a2a2a" stroke-width="0.22" textLength="23.98" lengthAdjust="spacingAndGlyphs" transform="rotate(-45 72.10 511.50)" >ASXL1</text>
<path d="M84.83 448.5V455.7M83.83 448.5H87.83M83.83 455.7H87.83" stroke="#1a1a1a" stroke-width="0.9" fill="none"/>
<path d="M79.43 452.3H86.53" stroke="#1a1a1a" stroke-width="1.3" fill="none"/>
<circle cx="81.53" cy="448.5" r="1.95" fill="#0e4c8a"/>
<circle cx="81.53" cy="455.7" r="1.95" fill="#0e4c8a"/>
<circle cx="88.53" cy="451.8" r="1.95" fill="#0e4c8a"/>
<line x1="84.83" y1="501" x2="84.83" y2="503.8" stroke="#222" stroke-width="0.8"/>
<text x="88.83" y="511.50" font-size="8.0" text-anchor="end" fill="#2a2a2a" stroke="#2a2a2a" stroke-width="0.22" textLength="24.83" lengthAdjust="spacingAndGlyphs" transform="rotate(-45 88.83 511.50)" >SRSF2</text>
<line x1="101.56" y1="446.0" x2="101.56" y2="487.0" stroke="#3a3a3a" stroke-width="1"/>
<rect x="96.36" y="448.0" width="10.4" height="22.00" fill="#86a6c6"/>
<line x1="96.36" y1="452.5" x2="106.76" y2="452.5" stroke="#1a1a1a" stroke-width="1.1"/>
<path d="M98.56 446.0H104.56M98.56 487.0H104.56" stroke="#2a2a2a" stroke-width="1.0"/>
<circle cx="101.56" cy="445.2" r="1.95" fill="#0e4c8a"/>
<circle cx="99.76" cy="447" r="1.95" fill="#0e4c8a"/>
<circle cx="103.36" cy="447" r="1.95" fill="#0e4c8a"/>
<circle cx="97.96" cy="449.4" r="1.95" fill="#0e4c8a"/>
<circle cx="101.56" cy="449.4" r="1.95" fill="#0e4c8a"/>
<circle cx="105.16" cy="450" r="1.95" fill="#0e4c8a"/>
<circle cx="101.56" cy="453" r="1.95" fill="#0e4c8a"/>
<circle cx="99.76" cy="454.8" r="1.95" fill="#0e4c8a"/>
<circle cx="103.36" cy="454.8" r="1.95" fill="#0e4c8a"/>
<circle cx="101.56" cy="456.6" r="1.95" fill="#0e4c8a"/>
<circle cx="101.56" cy="462" r="1.95" fill="#0e4c8a"/>
<circle cx="101.56" cy="469.7" r="1.95" fill="#0e4c8a"/>
<circle cx="101.56" cy="473.3" r="1.95" fill="#0e4c8a"/>
<circle cx="101.56" cy="475.7" r="1.95" fill="#0e4c8a"/>
<circle cx="101.56" cy="477" r="1.95" fill="#0e4c8a"/>
<circle cx="102.16" cy="484.1" r="1.95" fill="#0e4c8a"/>
<circle cx="100.36" cy="487.7" r="1.95" fill="#0e4c8a"/>
<circle cx="101.56" cy="487.7" r="1.95" fill="#0e4c8a"/>
<line x1="101.56" y1="501" x2="101.56" y2="503.8" stroke="#222" stroke-width="0.8"/>
<text x="105.56" y="511.50" font-size="8.0" text-anchor="end" fill="#2a2a2a" stroke="#2a2a2a" stroke-width="0.22" textLength="23.55" lengthAdjust="spacingAndGlyphs" transform="rotate(-45 105.56 511.50)" >SF3B1</text>
<path d="M118.29 454V473M116.29 454H120.29M116.29 473H120.29" stroke="#3a3a3a" stroke-width="1" fill="none"/>
<circle cx="114.79" cy="454.0" r="1.95" fill="#0e4c8a"/>
<circle cx="121.79" cy="454.3" r="1.95" fill="#0e4c8a"/>
<circle cx="118.29" cy="473.0" r="1.95" fill="#0e4c8a"/>
<line x1="118.29" y1="501" x2="118.29" y2="503.8" stroke="#222" stroke-width="0.8"/>
<text x="122.29" y="511.50" font-size="8.0" text-anchor="end" fill="#2a2a2a" stroke="#2a2a2a" stroke-width="0.22" textLength="26.11" lengthAdjust="spacingAndGlyphs" transform="rotate(-45 122.29 511.50)" >RUNX1</text>
<line x1="135.02" y1="449.6" x2="135.02" y2="486.0" stroke="#3a3a3a" stroke-width="1"/>
<rect x="129.82" y="449.6" width="10.4" height="17.20" fill="#86a6c6"/>
<line x1="129.82" y1="456.2" x2="140.22" y2="456.2" stroke="#1a1a1a" stroke-width="1.1"/>
<path d="M132.02 449.6H138.02M132.02 486.0H138.02" stroke="#2a2a2a" stroke-width="1.0"/>
<circle cx="131.62" cy="449.8" r="1.95" fill="#0e4c8a"/>
<circle cx="138.52" cy="450.1" r="1.95" fill="#0e4c8a"/>
<circle cx="131.62" cy="456.8" r="1.95" fill="#0e4c8a"/>
<circle cx="138.42" cy="455.1" r="1.95" fill="#0e4c8a"/>
<circle cx="138.22" cy="460.7" r="1.95" fill="#0e4c8a"/>
<circle cx="135.02" cy="486.0" r="1.95" fill="#0e4c8a"/>
<line x1="135.02" y1="501" x2="135.02" y2="503.8" stroke="#222" stroke-width="0.8"/>
<text x="139.02" y="511.50" font-size="8.0" text-anchor="end" fill="#2a2a2a" stroke="#2a2a2a" stroke-width="0.22" textLength="24.11" lengthAdjust="spacingAndGlyphs" transform="rotate(-45 139.02 511.50)" >GATA2</text>
<path d="M151.75 454.1V461.4M150.75 454.1H154.75M150.75 461.4H154.75" stroke="#1a1a1a" stroke-width="0.9" fill="none"/>
<path d="M146.35 457.8H153.45" stroke="#1a1a1a" stroke-width="1.3" fill="none"/>
<circle cx="148.35" cy="454.1" r="1.95" fill="#0e4c8a"/>
<circle cx="148.35" cy="461.4" r="1.95" fill="#0e4c8a"/>
<circle cx="155.05" cy="458.0" r="1.95" fill="#0e4c8a"/>
<line x1="151.75" y1="501" x2="151.75" y2="503.8" stroke="#222" stroke-width="0.8"/>
<text x="155.75" y="511.50" font-size="8.0" text-anchor="end" fill="#2a2a2a" stroke="#2a2a2a" stroke-width="0.22" textLength="23.97" lengthAdjust="spacingAndGlyphs" transform="rotate(-45 155.75 511.50)" >U2AF1</text>
<line x1="168.48" y1="446.8" x2="168.48" y2="497.5" stroke="#3a3a3a" stroke-width="1"/>
<rect x="163.28" y="451.9" width="10.4" height="36.40" fill="#86a6c6"/>
<line x1="163.28" y1="455.0" x2="173.68" y2="455.0" stroke="#1a1a1a" stroke-width="1.1"/>
<path d="M165.48 446.8H171.48M165.48 497.5H171.48" stroke="#2a2a2a" stroke-width="1.0"/>
<circle cx="168.48" cy="446.8" r="1.95" fill="#0e4c8a"/>
<circle cx="164.88" cy="452.6" r="1.95" fill="#0e4c8a"/>
<circle cx="171.88" cy="453.7" r="1.95" fill="#0e4c8a"/>
<circle cx="167.48" cy="453.0" r="1.95" fill="#0e4c8a"/>
<circle cx="166.08" cy="459.5" r="1.95" fill="#0e4c8a"/>
<circle cx="171.28" cy="459.5" r="1.95" fill="#0e4c8a"/>
<circle cx="168.48" cy="488.3" r="1.95" fill="#0e4c8a"/>
<circle cx="168.48" cy="492.9" r="1.95" fill="#0e4c8a"/>
<circle cx="168.48" cy="497.5" r="1.95" fill="#0e4c8a"/>
<line x1="168.48" y1="501" x2="168.48" y2="503.8" stroke="#222" stroke-width="0.8"/>
<text x="172.48" y="511.50" font-size="8.0" text-anchor="end" fill="#2a2a2a" stroke="#2a2a2a" stroke-width="0.22" textLength="31.67" lengthAdjust="spacingAndGlyphs" transform="rotate(-45 172.48 511.50)" >DNMT3A</text>
<line x1="185.21" y1="401.2" x2="185.21" y2="498.7" stroke="#3a3a3a" stroke-width="1"/>
<rect x="180.01" y="434.1" width="10.4" height="46.10" fill="#86a6c6"/>
<line x1="180.01" y1="464.8" x2="190.41" y2="464.8" stroke="#1a1a1a" stroke-width="1.1"/>
<path d="M182.21 401.2H188.21M182.21 498.7H188.21" stroke="#2a2a2a" stroke-width="1.0"/>
<circle cx="185.21" cy="401.2" r="1.95" fill="#0e4c8a"/>
<circle cx="185.21" cy="407.0" r="1.95" fill="#0e4c8a"/>
<circle cx="185.21" cy="442.4" r="1.95" fill="#0e4c8a"/>
<circle cx="185.21" cy="453.4" r="1.95" fill="#0e4c8a"/>
<circle cx="185.21" cy="460.6" r="1.95" fill="#0e4c8a"/>
<circle cx="183.21" cy="467.7" r="1.95" fill="#0e4c8a"/>
<circle cx="188.21" cy="471.2" r="1.95" fill="#0e4c8a"/>
<circle cx="185.21" cy="477.2" r="1.95" fill="#0e4c8a"/>
<circle cx="185.21" cy="493.6" r="1.95" fill="#0e4c8a"/>
<circle cx="185.21" cy="498.7" r="1.95" fill="#0e4c8a"/>
<line x1="185.21" y1="501" x2="185.21" y2="503.8" stroke="#222" stroke-width="0.8"/>
<text x="189.21" y="511.50" font-size="8.0" text-anchor="end" fill="#2a2a2a" stroke="#2a2a2a" stroke-width="0.22" textLength="18.41" lengthAdjust="spacingAndGlyphs" transform="rotate(-45 189.21 511.50)" >TP53</text>
<line x1="201.94" y1="447.3" x2="201.94" y2="495.6" stroke="#3a3a3a" stroke-width="1"/>
<rect x="196.74" y="447.3" width="10.4" height="42.50" fill="#86a6c6"/>
<line x1="196.74" y1="478.6" x2="207.14" y2="478.6" stroke="#1a1a1a" stroke-width="1.1"/>
<path d="M198.94 447.3H204.94M198.94 495.6H204.94" stroke="#2a2a2a" stroke-width="1.0"/>
<circle cx="198.64" cy="446.5" r="1.95" fill="#0e4c8a"/>
<circle cx="201.94" cy="448.7" r="1.95" fill="#0e4c8a"/>
<circle cx="205.24" cy="446.8" r="1.95" fill="#0e4c8a"/>
<circle cx="199.64" cy="480.9" r="1.95" fill="#0e4c8a"/>
<circle cx="203.84" cy="478.6" r="1.95" fill="#0e4c8a"/>
<circle cx="201.94" cy="490.1" r="1.95" fill="#0e4c8a"/>
<circle cx="201.94" cy="495.6" r="1.95" fill="#0e4c8a"/>
<line x1="201.94" y1="501" x2="201.94" y2="503.8" stroke="#222" stroke-width="0.8"/>
<text x="205.94" y="511.50" font-size="8.0" text-anchor="end" fill="#2a2a2a" stroke="#2a2a2a" stroke-width="0.22" textLength="21.40" lengthAdjust="spacingAndGlyphs" transform="rotate(-45 205.94 511.50)" >NRAS</text>
<line x1="218.67" y1="422.6" x2="218.67" y2="495.2" stroke="#3a3a3a" stroke-width="1"/>
<rect x="213.47" y="435.8" width="10.4" height="59.40" fill="#86a6c6"/>
<line x1="213.47" y1="484.4" x2="223.87" y2="484.4" stroke="#1a1a1a" stroke-width="1.1"/>
<path d="M215.67 422.6H221.67M215.67 495.2H221.67" stroke="#2a2a2a" stroke-width="1.0"/>
<circle cx="218.67" cy="422.6" r="1.95" fill="#0e4c8a"/>
<circle cx="218.67" cy="475.2" r="1.95" fill="#0e4c8a"/>
<circle cx="215.47" cy="495.6" r="1.95" fill="#0e4c8a"/>
<circle cx="221.87" cy="493.8" r="1.95" fill="#0e4c8a"/>
<line x1="218.67" y1="501" x2="218.67" y2="503.8" stroke="#222" stroke-width="0.8"/>
<text x="222.67" y="511.50" font-size="8.0" text-anchor="end" fill="#2a2a2a" stroke="#2a2a2a" stroke-width="0.22" textLength="14.55" lengthAdjust="spacingAndGlyphs" transform="rotate(-45 222.67 511.50)" >NF1</text>
<line x1="235.40" y1="448.4" x2="235.40" y2="498.7" stroke="#3a3a3a" stroke-width="1"/>
<rect x="230.20" y="457.2" width="10.4" height="41.50" fill="#86a6c6"/>
<line x1="230.20" y1="487.8" x2="240.60" y2="487.8" stroke="#1a1a1a" stroke-width="1.1"/>
<path d="M232.40 448.4H238.40M232.40 498.7H238.40" stroke="#2a2a2a" stroke-width="1.0"/>
<circle cx="235.40" cy="448.4" r="1.95" fill="#0e4c8a"/>
<circle cx="235.40" cy="481.4" r="1.95" fill="#0e4c8a"/>
<circle cx="238.40" cy="494.5" r="1.95" fill="#0e4c8a"/>
<circle cx="232.00" cy="498.7" r="1.95" fill="#0e4c8a"/>
<line x1="235.40" y1="501" x2="235.40" y2="503.8" stroke="#222" stroke-width="0.8"/>
<text x="239.40" y="511.50" font-size="8.0" text-anchor="end" fill="#2a2a2a" stroke="#2a2a2a" stroke-width="0.22" textLength="18.83" lengthAdjust="spacingAndGlyphs" transform="rotate(-45 239.40 511.50)" >TET2</text>
<line x1="252.13" y1="452.6" x2="252.13" y2="499.8" stroke="#3a3a3a" stroke-width="1"/>
<rect x="246.93" y="460.0" width="10.4" height="39.80" fill="#86a6c6"/>
<line x1="246.93" y1="491.1" x2="257.33" y2="491.1" stroke="#1a1a1a" stroke-width="1.1"/>
<path d="M249.13 452.6H255.13M249.13 499.8H255.13" stroke="#2a2a2a" stroke-width="1.0"/>
<circle cx="250.73" cy="452.6" r="1.95" fill="#0e4c8a"/>
<circle cx="253.13" cy="457.7" r="1.95" fill="#0e4c8a"/>
<circle cx="252.13" cy="461.8" r="1.95" fill="#0e4c8a"/>
<circle cx="252.13" cy="473.8" r="1.95" fill="#0e4c8a"/>
<circle cx="252.13" cy="491.1" r="1.95" fill="#0e4c8a"/>
<circle cx="249.13" cy="498.9" r="1.95" fill="#0e4c8a"/>
<circle cx="252.63" cy="498.9" r="1.95" fill="#0e4c8a"/>
<circle cx="255.63" cy="498.9" r="1.95" fill="#0e4c8a"/>
<line x1="252.13" y1="501" x2="252.13" y2="503.8" stroke="#222" stroke-width="0.8"/>
<text x="256.13" y="511.50" font-size="8.0" text-anchor="end" fill="#2a2a2a" stroke="#2a2a2a" stroke-width="0.22" textLength="28.54" lengthAdjust="spacingAndGlyphs" transform="rotate(-45 256.13 511.50)" >PTPN11</text>
<line x1="268.86" y1="448.0" x2="268.86" y2="496.6" stroke="#3a3a3a" stroke-width="1"/>
<rect x="263.66" y="462.3" width="10.4" height="30.60" fill="#86a6c6"/>
<line x1="263.66" y1="491.8" x2="274.06" y2="491.8" stroke="#1a1a1a" stroke-width="1.1"/>
<path d="M265.86 448.0H271.86M265.86 496.6H271.86" stroke="#2a2a2a" stroke-width="1.0"/>
<circle cx="268.86" cy="448.0" r="1.95" fill="#0e4c8a"/>
<circle cx="268.86" cy="466.4" r="1.95" fill="#0e4c8a"/>
<circle cx="265.16" cy="490.1" r="1.95" fill="#0e4c8a"/>
<circle cx="268.86" cy="491.8" r="1.95" fill="#0e4c8a"/>
<circle cx="271.86" cy="493.3" r="1.95" fill="#0e4c8a"/>
<circle cx="265.16" cy="496.6" r="1.95" fill="#0e4c8a"/>
<line x1="268.86" y1="501" x2="268.86" y2="503.8" stroke="#222" stroke-width="0.8"/>
<text x="272.86" y="511.50" font-size="8.0" text-anchor="end" fill="#2a2a2a" stroke="#2a2a2a" stroke-width="0.22" textLength="20.98" lengthAdjust="spacingAndGlyphs" transform="rotate(-45 272.86 511.50)" >KRAS</text>
<path d="M285.59 493.6V496.9M284.59 493.6H288.59M284.59 496.9H288.59" stroke="#1a1a1a" stroke-width="0.9" fill="none"/>
<path d="M280.19 495.2H287.29" stroke="#1a1a1a" stroke-width="1.3" fill="none"/>
<circle cx="281.69" cy="496.9" r="1.95" fill="#0e4c8a"/>
<circle cx="285.59" cy="493.6" r="1.95" fill="#0e4c8a"/>
<circle cx="289.09" cy="495.6" r="1.95" fill="#0e4c8a"/>
<line x1="285.59" y1="501" x2="285.59" y2="503.8" stroke="#222" stroke-width="0.8"/>
<text x="289.59" y="511.50" font-size="8.0" text-anchor="end" fill="#2a2a2a" stroke="#2a2a2a" stroke-width="0.22" textLength="17.40" lengthAdjust="spacingAndGlyphs" transform="rotate(-45 289.59 511.50)" >FLT3</text>
<text x="304.60" y="368.40" font-size="11.2" text-anchor="start" fill="#000" font-weight="bold" stroke="#000" stroke-width="0.35" >D</text>
<text x="356.60" y="406.80" font-size="8.3" text-anchor="end" fill="#2a2a2a" font-style="italic" stroke="#2a2a2a" stroke-width="0.22" textLength="21.68" lengthAdjust="spacingAndGlyphs" >EVI1-r</text>
<rect x="359.60" y="399.20" width="12.27" height="9.4" fill="#4a5567"/>
<rect x="372.57" y="399.20" width="12.27" height="9.4" fill="#4a5567"/>
<rect x="385.54" y="399.20" width="12.27" height="9.4" fill="#4a5567"/>
<rect x="398.51" y="399.20" width="12.27" height="9.4" fill="#4a5567"/>
<rect x="411.48" y="399.20" width="12.27" height="9.4" fill="#4a5567"/>
<rect x="424.45" y="399.20" width="12.27" height="9.4" fill="#4a5567"/>
<rect x="437.42" y="399.20" width="12.27" height="9.4" fill="#4a5567"/>
<rect x="450.39" y="399.20" width="12.27" height="9.4" fill="#4a5567"/>
<text x="356.60" y="417.11" font-size="8.3" text-anchor="end" fill="#2a2a2a" font-style="italic" stroke="#2a2a2a" stroke-width="0.22" textLength="23.79" lengthAdjust="spacingAndGlyphs" >SF3B1</text>
<rect x="359.60" y="409.51" width="12.27" height="9.4" fill="#15528f"/>
<rect x="372.57" y="409.51" width="12.27" height="9.4" fill="#15528f"/>
<rect x="385.54" y="409.51" width="12.27" height="9.4" fill="#15528f"/>
<rect x="398.51" y="409.51" width="12.27" height="9.4" fill="#eef2f3"/>
<rect x="411.48" y="409.51" width="12.27" height="9.4" fill="#eef2f3"/>
<rect x="424.45" y="409.51" width="12.27" height="9.4" fill="#eef2f3"/>
<rect x="437.42" y="409.51" width="12.27" height="9.4" fill="#eef2f3"/>
<rect x="450.39" y="409.51" width="12.27" height="9.4" fill="#eef2f3"/>
<text x="356.60" y="427.42" font-size="8.3" text-anchor="end" fill="#2a2a2a" font-style="italic" stroke="#2a2a2a" stroke-width="0.22" textLength="29.32" lengthAdjust="spacingAndGlyphs" >PTPN11</text>
<rect x="359.60" y="419.82" width="12.27" height="9.4" fill="#c8102e"/>
<rect x="372.57" y="419.82" width="12.27" height="9.4" fill="#eef2f3"/>
<rect x="385.54" y="419.82" width="12.27" height="9.4" fill="#eef2f3"/>
<rect x="398.51" y="419.82" width="12.27" height="9.4" fill="#eef2f3"/>
<rect x="411.48" y="419.82" width="12.27" height="9.4" fill="#eef2f3"/>
<rect x="424.45" y="419.82" width="12.27" height="9.4" fill="#eef2f3"/>
<rect x="437.42" y="419.82" width="12.27" height="9.4" fill="#c8102e"/>
<rect x="450.39" y="419.82" width="12.27" height="9.4" fill="#c8102e"/>
<text x="356.60" y="437.73" font-size="8.3" text-anchor="end" fill="#2a2a2a" font-style="italic" stroke="#2a2a2a" stroke-width="0.22" textLength="23.26" lengthAdjust="spacingAndGlyphs" >BCOR</text>
<rect x="359.60" y="430.13" width="12.27" height="9.4" fill="#ff8c00"/>
<rect x="372.57" y="430.13" width="12.27" height="9.4" fill="#eef2f3"/>
<rect x="385.54" y="430.13" width="12.27" height="9.4" fill="#ff8c00"/>
<rect x="398.51" y="430.13" width="12.27" height="9.4" fill="#eef2f3"/>
<rect x="411.48" y="430.13" width="12.27" height="9.4" fill="#eef2f3"/>
<rect x="424.45" y="430.13" width="12.27" height="9.4" fill="#eef2f3"/>
<rect x="437.42" y="430.13" width="12.27" height="9.4" fill="#eef2f3"/>
<rect x="450.39" y="430.13" width="12.27" height="9.4" fill="#eef2f3"/>
<text x="356.60" y="448.04" font-size="8.3" text-anchor="end" fill="#2a2a2a" font-style="italic" stroke="#2a2a2a" stroke-width="0.22" textLength="11.52" lengthAdjust="spacingAndGlyphs" >KIT</text>
<rect x="359.60" y="440.44" width="12.27" height="9.4" fill="#eef2f3"/>
<rect x="372.57" y="440.44" width="12.27" height="9.4" fill="#eef2f3"/>
<rect x="385.54" y="440.44" width="12.27" height="9.4" fill="#e6198b"/>
<rect x="398.51" y="440.44" width="12.27" height="9.4" fill="#eef2f3"/>
<rect x="411.48" y="440.44" width="12.27" height="9.4" fill="#eef2f3"/>
<rect x="424.45" y="440.44" width="12.27" height="9.4" fill="#eef2f3"/>
<rect x="437.42" y="440.44" width="12.27" height="9.4" fill="#eef2f3"/>
<rect x="450.39" y="440.44" width="12.27" height="9.4" fill="#e6198b"/>
<text x="356.60" y="458.35" font-size="8.3" text-anchor="end" fill="#2a2a2a" font-style="italic" stroke="#2a2a2a" stroke-width="0.22" textLength="19.40" lengthAdjust="spacingAndGlyphs" >TP53</text>
<rect x="359.60" y="450.75" width="12.27" height="9.4" fill="#eef2f3"/>
<rect x="372.57" y="450.75" width="12.27" height="9.4" fill="#eef2f3"/>
<rect x="385.54" y="450.75" width="12.27" height="9.4" fill="#eef2f3"/>
<rect x="398.51" y="450.75" width="12.27" height="9.4" fill="#eef2f3"/>
<rect x="411.48" y="450.75" width="12.27" height="9.4" fill="#2aa7e0"/>
<rect x="424.45" y="450.75" width="12.27" height="9.4" fill="#2aa7e0"/>
<rect x="437.42" y="450.75" width="12.27" height="9.4" fill="#eef2f3"/>
<rect x="450.39" y="450.75" width="12.27" height="9.4" fill="#eef2f3"/>
<text x="356.60" y="468.66" font-size="8.3" text-anchor="end" fill="#2a2a2a" font-style="italic" stroke="#2a2a2a" stroke-width="0.22" textLength="25.95" lengthAdjust="spacingAndGlyphs" >RAD21</text>
<rect x="359.60" y="461.06" width="12.27" height="9.4" fill="#5a2278"/>
<rect x="372.57" y="461.06" width="12.27" height="9.4" fill="#eef2f3"/>
<rect x="385.54" y="461.06" width="12.27" height="9.4" fill="#eef2f3"/>
<rect x="398.51" y="461.06" width="12.27" height="9.4" fill="#eef2f3"/>
<rect x="411.48" y="461.06" width="12.27" height="9.4" fill="#eef2f3"/>
<rect x="424.45" y="461.06" width="12.27" height="9.4" fill="#eef2f3"/>
<rect x="437.42" y="461.06" width="12.27" height="9.4" fill="#eef2f3"/>
<rect x="450.39" y="461.06" width="12.27" height="9.4" fill="#eef2f3"/>
<text x="356.60" y="478.97" font-size="8.3" text-anchor="end" fill="#2a2a2a" font-style="italic" stroke="#2a2a2a" stroke-width="0.22" textLength="20.45" lengthAdjust="spacingAndGlyphs" >KRAS</text>
<rect x="359.60" y="471.37" width="12.27" height="9.4" fill="#eef2f3"/>
<rect x="372.57" y="471.37" width="12.27" height="9.4" fill="#c8102e"/>
<rect x="385.54" y="471.37" width="12.27" height="9.4" fill="#eef2f3"/>
<rect x="398.51" y="471.37" width="12.27" height="9.4" fill="#eef2f3"/>
<rect x="411.48" y="471.37" width="12.27" height="9.4" fill="#eef2f3"/>
<rect x="424.45" y="471.37" width="12.27" height="9.4" fill="#eef2f3"/>
<rect x="437.42" y="471.37" width="12.27" height="9.4" fill="#eef2f3"/>
<rect x="450.39" y="471.37" width="12.27" height="9.4" fill="#eef2f3"/>
<text x="356.60" y="489.28" font-size="8.3" text-anchor="end" fill="#2a2a2a" font-style="italic" stroke="#2a2a2a" stroke-width="0.22" textLength="19.68" lengthAdjust="spacingAndGlyphs" >TET2</text>
<rect x="359.60" y="481.68" width="12.27" height="9.4" fill="#eef2f3"/>
<rect x="372.57" y="481.68" width="12.27" height="9.4" fill="#eef2f3"/>
<rect x="385.54" y="481.68" width="12.27" height="9.4" fill="#8b80c6"/>
<rect x="398.51" y="481.68" width="12.27" height="9.4" fill="#eef2f3"/>
<rect x="411.48" y="481.68" width="12.27" height="9.4" fill="#eef2f3"/>
<rect x="424.45" y="481.68" width="12.27" height="9.4" fill="#eef2f3"/>
<rect x="437.42" y="481.68" width="12.27" height="9.4" fill="#eef2f3"/>
<rect x="450.39" y="481.68" width="12.27" height="9.4" fill="#eef2f3"/>
<text x="356.60" y="499.59" font-size="8.3" text-anchor="end" fill="#2a2a2a" font-style="italic" stroke="#2a2a2a" stroke-width="0.22" textLength="16.99" lengthAdjust="spacingAndGlyphs" >WT1</text>
<rect x="359.60" y="491.99" width="12.27" height="9.4" fill="#eef2f3"/>
<rect x="372.57" y="491.99" width="12.27" height="9.4" fill="#eef2f3"/>
<rect x="385.54" y="491.99" width="12.27" height="9.4" fill="#eef2f3"/>
<rect x="398.51" y="491.99" width="12.27" height="9.4" fill="#3bb54a"/>
<rect x="411.48" y="491.99" width="12.27" height="9.4" fill="#eef2f3"/>
<rect x="424.45" y="491.99" width="12.27" height="9.4" fill="#eef2f3"/>
<rect x="437.42" y="491.99" width="12.27" height="9.4" fill="#eef2f3"/>
<rect x="450.39" y="491.99" width="12.27" height="9.4" fill="#eef2f3"/>
<text x="356.60" y="509.90" font-size="8.3" text-anchor="end" fill="#2a2a2a" font-style="italic" stroke="#2a2a2a" stroke-width="0.22" textLength="22.01" lengthAdjust="spacingAndGlyphs" >NRAS</text>
<rect x="359.60" y="502.30" width="12.27" height="9.4" fill="#eef2f3"/>
<rect x="372.57" y="502.30" width="12.27" height="9.4" fill="#eef2f3"/>
<rect x="385.54" y="502.30" width="12.27" height="9.4" fill="#eef2f3"/>
<rect x="398.51" y="502.30" width="12.27" height="9.4" fill="#c8102e"/>
<rect x="411.48" y="502.30" width="12.27" height="9.4" fill="#eef2f3"/>
<rect x="424.45" y="502.30" width="12.27" height="9.4" fill="#eef2f3"/>
<rect x="437.42" y="502.30" width="12.27" height="9.4" fill="#eef2f3"/>
<rect x="450.39" y="502.30" width="12.27" height="9.4" fill="#eef2f3"/>
<text x="356.60" y="520.21" font-size="8.3" text-anchor="end" fill="#2a2a2a" font-style="italic" stroke="#2a2a2a" stroke-width="0.22" textLength="14.95" lengthAdjust="spacingAndGlyphs" >NF1</text>
<rect x="359.60" y="512.61" width="12.27" height="9.4" fill="#eef2f3"/>
<rect x="372.57" y="512.61" width="12.27" height="9.4" fill="#eef2f3"/>
<rect x="385.54" y="512.61" width="12.27" height="9.4" fill="#eef2f3"/>
<rect x="398.51" y="512.61" width="12.27" height="9.4" fill="#c8102e"/>
<rect x="411.48" y="512.61" width="12.27" height="9.4" fill="#eef2f3"/>
<rect x="424.45" y="512.61" width="12.27" height="9.4" fill="#eef2f3"/>
<rect x="437.42" y="512.61" width="12.27" height="9.4" fill="#eef2f3"/>
<rect x="450.39" y="512.61" width="12.27" height="9.4" fill="#eef2f3"/>
<text x="365.60" y="396.00" font-size="8.0" text-anchor="start" fill="#2a2a2a" stroke="#2a2a2a" stroke-width="0.22" textLength="26.53" lengthAdjust="spacingAndGlyphs" transform="rotate(-49 365.60 396.00)" >HNT-34</text>
<text x="378.57" y="396.00" font-size="8.0" text-anchor="start" fill="#2a2a2a" stroke="#2a2a2a" stroke-width="0.22" textLength="28.23" lengthAdjust="spacingAndGlyphs" transform="rotate(-49 378.57 396.00)" >MUTZ-3</text>
<text x="391.54" y="396.00" font-size="8.0" text-anchor="start" fill="#2a2a2a" stroke="#2a2a2a" stroke-width="0.22" textLength="38.94" lengthAdjust="spacingAndGlyphs" transform="rotate(-49 391.54 396.00)" >YCU-AML1</text>
<text x="404.51" y="396.00" font-size="8.0" text-anchor="start" fill="#2a2a2a" stroke="#2a2a2a" stroke-width="0.22" textLength="43.21" lengthAdjust="spacingAndGlyphs" transform="rotate(-49 404.51 396.00)" >OCI-AML-20</text>
<text x="417.48" y="396.00" font-size="8.0" text-anchor="start" fill="#2a2a2a" stroke="#2a2a2a" stroke-width="0.22" textLength="29.94" lengthAdjust="spacingAndGlyphs" transform="rotate(-49 417.48 396.00)" >MOLM-1</text>
<text x="430.45" y="396.00" font-size="8.0" text-anchor="start" fill="#2a2a2a" stroke="#2a2a2a" stroke-width="0.22" textLength="32.52" lengthAdjust="spacingAndGlyphs" transform="rotate(-49 430.45 396.00)" >Kasumi-3</text>
<text x="443.42" y="396.00" font-size="8.0" text-anchor="start" fill="#2a2a2a" stroke="#2a2a2a" stroke-width="0.22" textLength="32.52" lengthAdjust="spacingAndGlyphs" transform="rotate(-49 443.42 396.00)" >Kasumi-4</text>
<text x="456.39" y="396.00" font-size="8.0" text-anchor="start" fill="#2a2a2a" stroke="#2a2a2a" stroke-width="0.22" textLength="44.50" lengthAdjust="spacingAndGlyphs" transform="rotate(-49 456.39 396.00)" >UCSD-AML1</text>
<rect x="0.6" y="0.6" width="518.8" height="540.8" fill="none" stroke="#000" stroke-width="1.2"/>
</svg>
</body></html>
